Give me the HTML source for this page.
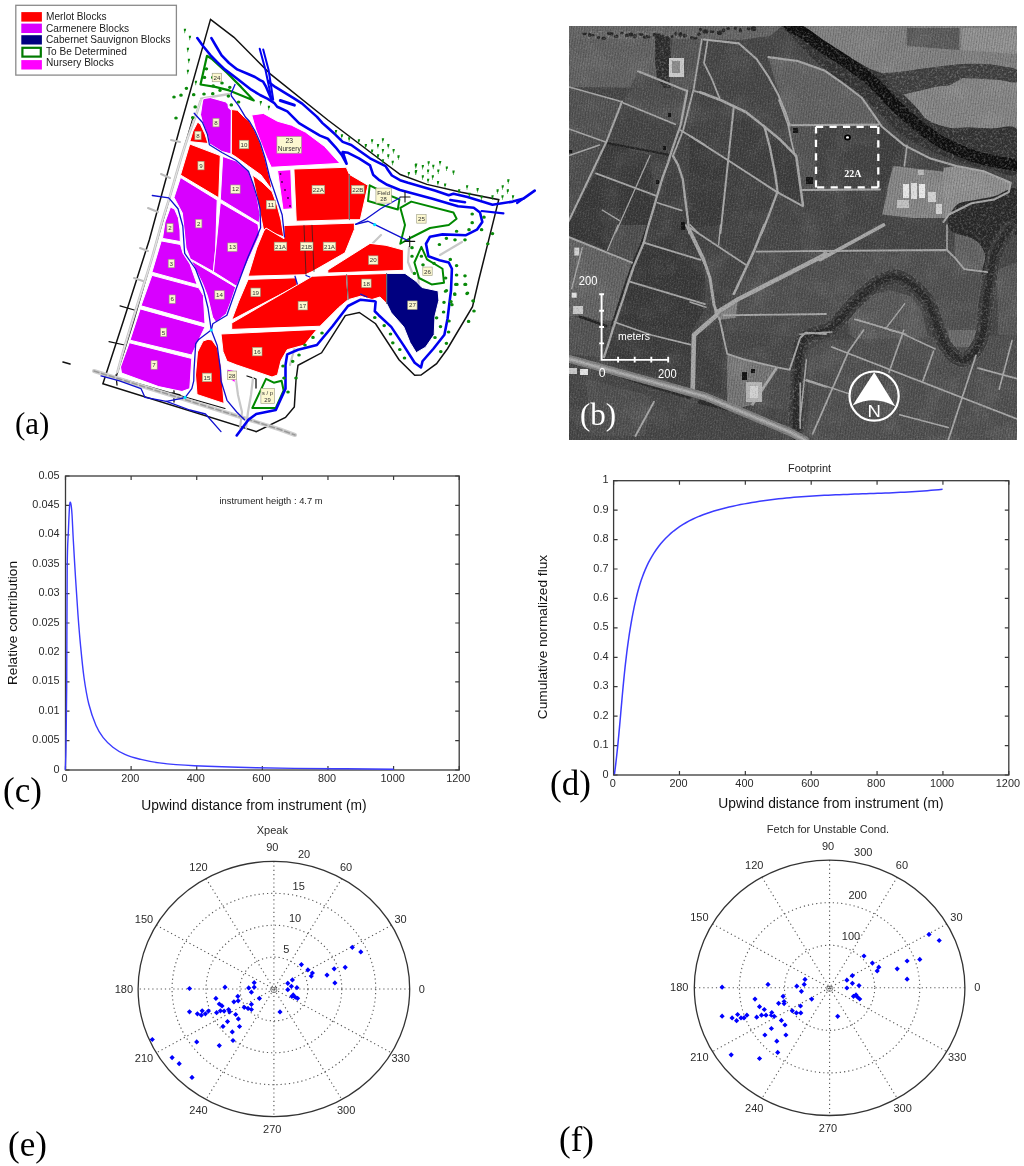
<!DOCTYPE html>
<html><head><meta charset="utf-8"><title>Figure</title>
<style>
html,body{margin:0;padding:0;background:#fff;}
body{width:1024px;height:1166px;overflow:hidden;position:relative;font-family:"Liberation Sans",sans-serif;}
svg{position:absolute;left:0;top:0;display:block;will-change:transform;}
</style></head><body>
<svg width="1024" height="1166" viewBox="0 0 1024 1166">
<defs><clipPath id="satclip"><rect x="569" y="26" width="448" height="414"/></clipPath><filter id="noise" x="0" y="0" width="100%" height="100%"><feTurbulence type="fractalNoise" baseFrequency="0.6" numOctaves="2" seed="3"/><feColorMatrix type="matrix" values="0 0 0 0 0  0 0 0 0 0  0 0 0 0 0  0 0 0 -1.2 0.62"/></filter><filter id="noiseW" x="0" y="0" width="100%" height="100%"><feTurbulence type="fractalNoise" baseFrequency="0.6" numOctaves="2" seed="5"/><feColorMatrix type="matrix" values="0 0 0 0 1  0 0 0 0 1  0 0 0 0 1  0 0 0 1.6 -0.72"/></filter><filter id="noise2" x="0" y="0" width="100%" height="100%"><feTurbulence type="fractalNoise" baseFrequency="0.04" numOctaves="3" seed="8"/><feColorMatrix type="matrix" values="0 0 0 0 1  0 0 0 0 1  0 0 0 0 1  0 0 0 1.2 -0.55"/></filter><filter id="trees" x="0" y="0" width="100%" height="100%"><feTurbulence type="fractalNoise" baseFrequency="0.42" numOctaves="2" seed="11"/><feColorMatrix type="matrix" values="0 0 0 0 0.62  0 0 0 0 0.62  0 0 0 0 0.62  0 0 0 2.6 -1.25"/></filter><pattern id="rows" width="2.6" height="6" patternUnits="userSpaceOnUse" patternTransform="rotate(8)"><rect width="1" height="6" fill="#000" fill-opacity="0.17"/></pattern><pattern id="rowsB" width="2.6" height="6" patternUnits="userSpaceOnUse" patternTransform="rotate(-62)"><rect width="1" height="6" fill="#000" fill-opacity="0.15"/></pattern><mask id="treemask" maskUnits="userSpaceOnUse" x="569" y="26" width="448" height="414"><polygon points="782,26 800,26 820,39.4 837.6,51.1 855.2,60.5 870,69 885.6,76 897,88 906,97 916.9,108 928.6,120.5 950,128 968.6,127.4 991.4,128.6 1017,129.7 1017,173.1 991.4,169.7 968.6,165.1 945.7,157.1 922.9,146.9 905,137 893.4,128 880,114 866.9,100.3 849.3,86.3 830,73 812,58 797,42" fill="#fff"/><polygon points="884,73 900,72 917,69.4 936,67 963,64 985,64 1000,66 1017,70 1017,82 1000,80 985,78 963,78 950,85 936.4,86.6 916.9,91.25 899.7,94.4 890,88" fill="#fff"/><polygon points="949,216 958,204 975,200 995,196 1017,190 1017,233 1011.8,233 1003,252 995,270 982,275 985,255 975,240 955,233 948,226" fill="#fff"/><polygon points="655,36 669,36 671,56 668,76 671,88 664,88 657,78 655,60" fill="#fff"/><polygon points="587,31 660,31 700,33 700,39 660,40 620,39 587,39" fill="#fff"/><path d="M797,440 C796.83,436.67 796,427.5 796,420 C796,412.5 796.67,403.33 797,395 C797.33,386.67 797.5,377.83 798,370 C798.5,362.17 798.67,353.5 800,348 C801.33,342.5 803,339.5 806,337 C809,334.5 814,334.33 818,333 C822,331.67 826.17,331.5 830,329 C833.83,326.5 837,322.33 841,318 C845,313.67 849.83,307.33 854,303 C858.17,298.67 861.58,295.67 866,292 C870.42,288.33 875.17,283.54 880.5,281 C885.83,278.46 892.17,275.63 898,276.75 C903.83,277.87 910.4,283.32 915.5,287.7 C920.6,292.07 924.95,296.45 928.6,303 C932.25,309.55 934.5,319.7 937.4,327 C940.3,334.3 941.98,341.3 946,346.8 C950.02,352.3 956.73,359.3 961.5,360 C966.27,360.7 970.97,355.77 974.6,351 C978.23,346.23 981.48,339.03 983.3,331.4 C985.12,323.77 984.38,314.31 985.5,305.2 C986.62,296.09 988.58,285.12 990,276.75 C991.42,268.38 991.83,261.56 994,255 C996.17,248.44 1000.33,241.9 1003,237.4 C1005.67,232.9 1008.83,229.57 1010,228" fill="none" stroke="#fff" stroke-width="16" stroke-linejoin="round" stroke-linecap="round" /></mask></defs>
<g clip-path="url(#satclip)">
<rect x="569" y="26" width="448" height="414" fill="#4a4a4a"/>
<polygon points="569,26 782,26 770,36 740,40 700,39 569,40" fill="#6a6a6a" />
<polygon points="569,39 655,39 657,78 661,88 569,87" fill="#666666" />
<polygon points="672,39 702,39 694,88 686,91 670,84" fill="#5a5a5a" />
<polygon points="569,87 622,101.7 606.2,142.3 569,129" fill="#565656" />
<polygon points="638,71.2 687.2,91 678,128 675.2,124.3 623.4,103" fill="#525252" />
<polygon points="623.4,103 675.2,124.3 668.6,154.2 606.2,142.3" fill="#484848" />
<polygon points="569,129 606.2,142.3 599.5,145 569,155.5" fill="#505050" />
<polygon points="569,155.5 599.5,145 595.6,172.8 580,200 569,220.6" fill="#525252" />
<polygon points="606.2,142.3 650,155.5 655.3,196.7 595.6,172.8" fill="#3e3e3e" />
<polygon points="650,155.5 668.6,154.2 655.3,200.7 655.3,196.7" fill="#454545" />
<polygon points="595.6,172.8 655.3,196.7 648.7,233 569,233 569,220.6" fill="#3c3c3c" />
<polygon points="670,158.2 683.2,184.8 688.5,226 688,233 648.7,233 655.3,200.7" fill="#444444" />
<polygon points="680.6,125 705,145 690,135.9 688,226 683.2,184.8 670,158.2" fill="#484848" />
<polygon points="703.9,39.5 739,43.4 756.6,59 768.4,76.6 778,94.2 786,113.75 789.8,125.5 779,135 758.6,121.6 735.2,104 700,92.3 707.8,75 704,63" fill="#4a4a4a" />
<polygon points="768.4,57.1 797.7,61 825,70.8 844.5,84.5 862,98 875.8,117.7 875.8,123.5 789.8,125.5 786,111.8 774.2,78.6" fill="#666666" />
<polygon points="690,92 720.5,100 745.8,112 764.4,126.6 727.2,159.8 690,135.9" fill="#484848" />
<polygon points="733.8,106.6 745.8,112 764.4,126.6 769.7,146.5 775,173 776.3,191.6 727.2,159.8" fill="#434343" />
<polygon points="764.4,126.6 780.3,139.8 796.2,155.8 802.9,204.9 776.3,191.6 775,173 769.7,146.5" fill="#404040" />
<polygon points="690,135.9 727.2,159.8 720.5,233 688,233" fill="#3e3e3e" />
<polygon points="727.2,159.8 776.3,191.6 761.7,233 720.5,233" fill="#454545" />
<polygon points="776.3,191.6 802.9,206.2 826,210 826,233 761.7,233" fill="#4a4a4a" />
<polygon points="788.3,125.2 816,126 816,190 802.9,191.6 796.2,155.8" fill="#585858" />
<polygon points="800,26 1017,26 1017,70 1000,66 985,64 963,64 936,67 917,69.4 900,72 885.6,74 870,69 855.2,60.5 837.6,51.1 820,39.4" fill="#858585" />
<polygon points="906.8,28 959.3,28 959.3,50 906.8,46" fill="#5e5e5e" />
<polygon points="961.5,28 1017,28 1017,54 961.5,50" fill="#969696" />
<polygon points="899.7,94.4 916.9,91.25 936.4,86.6 950,85 963,78 1000,80 1017,82 1017,129.7 991.4,128.6 968.6,127.4 950,128 928.6,122.5 916.9,110.8" fill="#8a8a8a" />
<polygon points="816,126.8 878.3,126.8 878.3,187.4 816,187.4" fill="#474747" />
<polygon points="878.3,124 882,125.5 904.4,145.4 907,145.4 904.4,166 893.2,166 882,190 878.3,190" fill="#424242" />
<polygon points="893.2,166 947.3,172 945.4,218.2 930.5,220 882,214.5 887,190" fill="#8c8c8c" />
<polygon points="943.5,167.8 956.6,166 984.6,171.6 1010.7,182.8 1008.8,192 993.9,199.6 971.5,203.3 949,214.5 943.5,222" fill="#959595" />
<polygon points="826,190 887.6,190 882,214.5 870,233 826,233" fill="#494949" />
<polygon points="882,218 947,218 947,233 870,233" fill="#4a4a4a" />
<polygon points="569,233 618,225 607.5,250.2 569,235.6" fill="#3a3a3a" />
<polygon points="607.5,250.2 618,225 648.7,225 631.4,262.2" fill="#525252" />
<polygon points="648.7,225 685.9,225 700.5,259.5 643.4,243.6" fill="#404040" />
<polygon points="569,237.2 632,262.6 628.9,280.9 622.7,300 616,320 600,321 585,316.6 569,316" fill="#686868" />
<polygon points="643.4,243.6 700.5,259.5 705,264.8 705,304.7 628.8,282.1" fill="#3c3c3c" />
<polygon points="628.8,282.1 705,304.7 706,307.3 692,330 614.2,322 619.5,299.4" fill="#3c3c3c" />
<polygon points="614.2,322 692,330 690,360 692.7,389.8 660,378 607.5,360 604,357.5" fill="#404040" />
<polygon points="569,316 600,321 604,357.5 569,354.6" fill="#585858" />
<polygon points="569,363.2 705,401.7 793,430 800,440 569,440" fill="#4a4a4a" />
<polygon points="586,379 651,396 645,436 590,436" fill="#545454" />
<polygon points="695.3,330 721.9,330 722,393.7 695.3,390" fill="#444444" />
<polygon points="727,330 800.2,330 800.2,338 789.6,369.8 776.3,367.2 743.1,359.2 727.2,353.9" fill="#4c4c4c" />
<polygon points="727.2,353.9 776.3,368.5 752.4,404.4 740,408 727,405" fill="#7a7a7a" />
<polygon points="776.3,368.5 796.2,369.8 793.6,403 785.6,410 752.4,404.4" fill="#535353" />
<polygon points="690,227.7 720.5,225 764.4,225 753.7,251.6 733.8,294 716.6,312.6 710,278 703.3,258.2" fill="#484848" />
<polygon points="764.4,225 826,225 826,250.9 756.4,251.6" fill="#4c4c4c" />
<polygon points="756.4,251.6 826,250.9 826,254.2 737.8,299.4 733.8,294" fill="#505050" />
<polygon points="737.8,299.4 826,254.2 826,314 723.2,315.3" fill="#545454" />
<polygon points="723.2,315.3 826,314 826,334 805.5,332.7 800.2,338 727,330" fill="#505050" />
<polygon points="716,310 738,298 736,318 718,320" fill="#888888" />
<polygon points="826,225 883.5,225 826,254.2" fill="#4a4a4a" />
<polygon points="883.5,225 947,225 947,250 826,251 826,254.2" fill="#484848" />
<polygon points="826,254.2 947,250 964.3,269.2 987.4,272.1 989.3,292.3 985.5,330 967,350 946,340 920,290 893.1,279 858.5,301 826,334" fill="#555555" />
<polygon points="954.7,225 1003,225 1002.8,244.2 993.1,273.1 987.4,272.1 964.3,269.2 954.7,257.7" fill="#666666" />
<polygon points="997,270 1017,262 1017,335 998,335" fill="#5c5c5c" />
<polygon points="846,312 866,296 890,290 910,296 922,311.6 927.7,335 950,350 958,360 940,380 900,372 850,335" fill="#5e5e5e" />
<polygon points="808.5,350 826,340 1017,335 1017,440 808,440" fill="#545454" />
<polygon points="948.3,330 976,330 975.9,347 948.3,347" fill="#707070" />
<rect x="569" y="26" width="448" height="414" filter="url(#noise2)" opacity="0.16"/>
<rect x="569" y="26" width="448" height="414" fill="url(#rows)"/>
<path d="M782,26 C785,26 793.67,23.77 800,26 C806.33,28.23 813.73,35.22 820,39.4 C826.27,43.58 831.73,47.58 837.6,51.1 C843.47,54.62 849.8,57.52 855.2,60.5 C860.6,63.48 864.93,66.42 870,69 C875.07,71.58 881.1,72.83 885.6,76 C890.1,79.17 893.6,84.5 897,88 C900.4,91.5 902.68,93.67 906,97 C909.32,100.33 913.13,104.08 916.9,108 C920.67,111.92 923.08,117.17 928.6,120.5 C934.12,123.83 943.33,126.85 950,128 C956.67,129.15 961.7,127.3 968.6,127.4 C975.5,127.5 983.33,128.22 991.4,128.6 C999.47,128.98 1012.73,122.28 1017,129.7 C1021.27,137.12 1021.27,166.43 1017,173.1 C1012.73,179.77 999.47,171.03 991.4,169.7 C983.33,168.37 976.22,167.2 968.6,165.1 C960.98,163 953.32,160.13 945.7,157.1 C938.08,154.07 929.68,150.25 922.9,146.9 C916.12,143.55 909.92,140.15 905,137 C900.08,133.85 897.57,131.83 893.4,128 C889.23,124.17 884.42,118.62 880,114 C875.58,109.38 872.02,104.92 866.9,100.3 C861.78,95.68 855.45,90.85 849.3,86.3 C843.15,81.75 836.22,77.72 830,73 C823.78,68.28 817.5,63.17 812,58 C806.5,52.83 802,47.33 797,42 C792,36.67 784.5,28.67 782,26Z" fill="#303030" />
<path d="M790,26 C792.5,27.33 800,30.83 805,34 C810,37.17 813.33,40.5 820,45 C826.67,49.5 836.67,55.25 845,61 C853.33,66.75 862,72.5 870,79.5 C878,86.5 886.5,96.58 893,103 C899.5,109.42 903.67,113.33 909,118 C914.33,122.67 918.67,126.5 925,131 C931.33,135.5 937.83,140.5 947,145 C956.17,149.5 968.33,154.58 980,158 C991.67,161.42 1010.83,164.25 1017,165.5" fill="none" stroke="#0c0c0c" stroke-width="12" stroke-linejoin="round" stroke-linecap="round" />
<path d="M884,73 C886.67,72.83 894.5,72.6 900,72 C905.5,71.4 911,70.23 917,69.4 C923,68.57 928.33,67.9 936,67 C943.67,66.1 954.83,64.5 963,64 C971.17,63.5 978.83,63.67 985,64 C991.17,64.33 994.67,65 1000,66 C1005.33,67 1014.17,67.33 1017,70 C1019.83,72.67 1019.83,80.33 1017,82 C1014.17,83.67 1005.33,80.67 1000,80 C994.67,79.33 991.17,78.33 985,78 C978.83,77.67 968.83,76.83 963,78 C957.17,79.17 954.43,83.57 950,85 C945.57,86.43 941.92,85.56 936.4,86.6 C930.88,87.64 923.02,89.95 916.9,91.25 C910.78,92.55 904.18,94.94 899.7,94.4 C895.22,93.86 892.62,91.57 890,88 C887.38,84.43 885,75.5 884,73Z" fill="#3c3c3c" />
<path d="M949,216 C950.5,214 953.67,206.67 958,204 C962.33,201.33 968.83,201.33 975,200 C981.17,198.67 988,197.67 995,196 C1002,194.33 1013.33,183.83 1017,190 C1020.67,196.17 1017.87,225.83 1017,233 C1016.13,240.17 1014.13,229.83 1011.8,233 C1009.47,236.17 1005.8,245.83 1003,252 C1000.2,258.17 998.5,266.17 995,270 C991.5,273.83 983.67,277.5 982,275 C980.33,272.5 986.17,260.83 985,255 C983.83,249.17 980,243.67 975,240 C970,236.33 959.5,235.33 955,233 C950.5,230.67 949,228.83 948,226 C947,223.17 948.83,217.67 949,216Z" fill="#262626" />
<polygon points="655,36 669,36 671,56 668,76 671,88 664,88 657,78 655,60" fill="#2a2a2a" />
<path d="M797,440 C796.83,436.67 796,427.5 796,420 C796,412.5 796.67,403.33 797,395 C797.33,386.67 797.5,377.83 798,370 C798.5,362.17 798.67,353.5 800,348 C801.33,342.5 803,339.5 806,337 C809,334.5 814,334.33 818,333 C822,331.67 826.17,331.5 830,329 C833.83,326.5 837,322.33 841,318 C845,313.67 849.83,307.33 854,303 C858.17,298.67 861.58,295.67 866,292 C870.42,288.33 875.17,283.54 880.5,281 C885.83,278.46 892.17,275.63 898,276.75 C903.83,277.87 910.4,283.32 915.5,287.7 C920.6,292.07 924.95,296.45 928.6,303 C932.25,309.55 934.5,319.7 937.4,327 C940.3,334.3 941.98,341.3 946,346.8 C950.02,352.3 956.73,359.3 961.5,360 C966.27,360.7 970.97,355.77 974.6,351 C978.23,346.23 981.48,339.03 983.3,331.4 C985.12,323.77 984.38,314.31 985.5,305.2 C986.62,296.09 988.58,285.12 990,276.75 C991.42,268.38 991.83,261.56 994,255 C996.17,248.44 1000.33,241.9 1003,237.4 C1005.67,232.9 1008.83,229.57 1010,228" fill="none" stroke="#383838" stroke-width="14" stroke-linejoin="round" stroke-linecap="round" />
<path d="M797,440 C796.83,436.67 796,427.5 796,420 C796,412.5 796.67,403.33 797,395 C797.33,386.67 797.5,377.83 798,370 C798.5,362.17 798.67,353.5 800,348 C801.33,342.5 803,339.5 806,337 C809,334.5 814,334.33 818,333 C822,331.67 826.17,331.5 830,329 C833.83,326.5 837,322.33 841,318 C845,313.67 849.83,307.33 854,303 C858.17,298.67 861.58,295.67 866,292 C870.42,288.33 875.17,283.54 880.5,281 C885.83,278.46 892.17,275.63 898,276.75 C903.83,277.87 910.4,283.32 915.5,287.7 C920.6,292.07 924.95,296.45 928.6,303 C932.25,309.55 934.5,319.7 937.4,327 C940.3,334.3 941.98,341.3 946,346.8 C950.02,352.3 956.73,359.3 961.5,360 C966.27,360.7 970.97,355.77 974.6,351 C978.23,346.23 981.48,339.03 983.3,331.4 C985.12,323.77 984.38,314.31 985.5,305.2 C986.62,296.09 988.58,285.12 990,276.75 C991.42,268.38 991.83,261.56 994,255 C996.17,248.44 1000.33,241.9 1003,237.4 C1005.67,232.9 1008.83,229.57 1010,228" fill="none" stroke="#262626" stroke-width="6.3" stroke-linejoin="round" stroke-linecap="round" />
<ellipse cx="584.5" cy="33.8" rx="2.3" ry="1.4" fill="#262626"/>
<ellipse cx="589.7" cy="35.0" rx="1.6" ry="1.9" fill="#262626"/>
<ellipse cx="592.8" cy="35.4" rx="1.6" ry="1.4" fill="#262626"/>
<ellipse cx="598.6" cy="37.5" rx="1.7" ry="1.5" fill="#262626"/>
<ellipse cx="603.8" cy="38.2" rx="2.3" ry="1.7" fill="#262626"/>
<ellipse cx="609.4" cy="33.3" rx="2.6" ry="1.6" fill="#262626"/>
<ellipse cx="611.5" cy="33.6" rx="1.9" ry="2.2" fill="#262626"/>
<ellipse cx="616.2" cy="36.2" rx="2.3" ry="1.7" fill="#262626"/>
<ellipse cx="621.9" cy="33.3" rx="1.6" ry="1.5" fill="#262626"/>
<ellipse cx="626.9" cy="35.4" rx="1.9" ry="1.9" fill="#262626"/>
<ellipse cx="630.9" cy="34.6" rx="2.5" ry="2.1" fill="#262626"/>
<ellipse cx="634.8" cy="36.2" rx="2.2" ry="2.3" fill="#262626"/>
<ellipse cx="640.9" cy="34.6" rx="2.8" ry="1.4" fill="#262626"/>
<ellipse cx="644.6" cy="37.2" rx="1.7" ry="1.8" fill="#262626"/>
<ellipse cx="648.0" cy="36.7" rx="2.5" ry="1.9" fill="#262626"/>
<ellipse cx="655.1" cy="34.7" rx="2.4" ry="2.0" fill="#262626"/>
<ellipse cx="658.8" cy="35.5" rx="2.6" ry="2.3" fill="#262626"/>
<ellipse cx="663.1" cy="36.7" rx="1.6" ry="2.1" fill="#262626"/>
<ellipse cx="668.2" cy="38.5" rx="2.6" ry="1.6" fill="#262626"/>
<ellipse cx="672.1" cy="36.7" rx="1.5" ry="1.8" fill="#262626"/>
<ellipse cx="676.0" cy="33.6" rx="1.6" ry="2.1" fill="#262626"/>
<ellipse cx="680.5" cy="34.4" rx="2.0" ry="2.3" fill="#262626"/>
<ellipse cx="684.9" cy="35.5" rx="2.2" ry="2.3" fill="#262626"/>
<ellipse cx="691.8" cy="37.8" rx="1.9" ry="1.8" fill="#262626"/>
<ellipse cx="695.0" cy="37.9" rx="2.7" ry="1.5" fill="#262626"/>
<ellipse cx="699.0" cy="34.3" rx="1.8" ry="1.8" fill="#262626"/>
<ellipse cx="700.4" cy="29.6" rx="1.5" ry="1.8" fill="#262626"/>
<ellipse cx="705.5" cy="31.4" rx="2.9" ry="2.1" fill="#262626"/>
<ellipse cx="712.1" cy="31.7" rx="2.5" ry="1.4" fill="#262626"/>
<ellipse cx="719.6" cy="32.7" rx="2.8" ry="2.3" fill="#262626"/>
<ellipse cx="723.6" cy="30.4" rx="1.7" ry="2.1" fill="#262626"/>
<ellipse cx="728.2" cy="28.4" rx="1.8" ry="1.5" fill="#262626"/>
<ellipse cx="735.4" cy="28.3" rx="1.5" ry="1.5" fill="#262626"/>
<ellipse cx="740.4" cy="30.2" rx="1.5" ry="2.3" fill="#262626"/>
<ellipse cx="748.5" cy="28.9" rx="1.9" ry="1.7" fill="#262626"/>
<ellipse cx="753.5" cy="28.7" rx="2.8" ry="2.5" fill="#262626"/>
<path d="M606.2,142.8 L668.6,154.7" fill="none" stroke="#222" stroke-width="2.2" stroke-linejoin="round" stroke-linecap="round" stroke-dasharray="3 2"/>
<path d="M648.5,222 L641,244 L631,268 L626,282 L620,300 L611.5,326" fill="none" stroke="#262626" stroke-width="1.8" stroke-linejoin="round" stroke-linecap="round" stroke-dasharray="3 1.5"/>
<path d="M579.6,316.6 L606.2,326" fill="none" stroke="#222" stroke-width="2.5" stroke-linejoin="round" stroke-linecap="round" />
<path d="M586,366 L620,376 L650,386 L690,398" fill="none" stroke="#2a2a2a" stroke-width="3" stroke-linejoin="round" stroke-linecap="round" stroke-dasharray="4 3"/>
<path d="M700,402 L740,412 L780,425" fill="none" stroke="#2a2a2a" stroke-width="4" stroke-linejoin="round" stroke-linecap="round" stroke-dasharray="5 3"/>
<g mask="url(#treemask)"><rect x="569" y="26" width="448" height="414" filter="url(#trees)" opacity="0.32"/></g>
<path d="M569,87 L622,101.7" fill="none" stroke="#a6a6a6" stroke-width="1.61" stroke-linejoin="round" stroke-linecap="round" />
<path d="M638,71.2 L687.2,91" fill="none" stroke="#a6a6a6" stroke-width="2.07" stroke-linejoin="round" stroke-linecap="round" />
<path d="M622,101.7 L606.2,142.3 L569,220.6" fill="none" stroke="#a6a6a6" stroke-width="2.07" stroke-linejoin="round" stroke-linecap="round" />
<path d="M623.4,103 L675.2,124.3" fill="none" stroke="#a6a6a6" stroke-width="1.72" stroke-linejoin="round" stroke-linecap="round" />
<path d="M569,129 L606.2,142.3" fill="none" stroke="#a6a6a6" stroke-width="1.49" stroke-linejoin="round" stroke-linecap="round" />
<path d="M569,155.5 L599.5,145" fill="none" stroke="#a6a6a6" stroke-width="1.38" stroke-linejoin="round" stroke-linecap="round" />
<path d="M595.9,173.4 L656.4,195.9" fill="none" stroke="#a6a6a6" stroke-width="1.72" stroke-linejoin="round" stroke-linecap="round" />
<path d="M657.4,202.7 L681.8,210.5" fill="none" stroke="#a6a6a6" stroke-width="1.61" stroke-linejoin="round" stroke-linecap="round" />
<path d="M650,155.5 L615.5,233" fill="none" stroke="#a6a6a6" stroke-width="1.26" stroke-linejoin="round" stroke-linecap="round" />
<path d="M602.2,210 L619.5,220.6" fill="none" stroke="#a6a6a6" stroke-width="1.38" stroke-linejoin="round" stroke-linecap="round" />
<path d="M687.2,91 L680.6,125 L672,150 L668.1,162.7 L662.3,178.3 L657.4,194.9 L653.5,208.6 L647.6,228.1 L643.75,242.7 L633.6,266.9 L628.9,280.9 L622.7,300 L614,325.6 L608,345 L604,357" fill="none" stroke="#a6a6a6" stroke-width="2.3" stroke-linejoin="round" stroke-linecap="round" />
<path d="M693.8,88.4 L683.2,130 L673,155.9" fill="none" stroke="#a6a6a6" stroke-width="1.84" stroke-linejoin="round" stroke-linecap="round" />
<path d="M673,155.9 L677.9,164.6 L682.8,179.3 L685.2,198.8 L687.7,218.4 L689.3,233" fill="none" stroke="#a6a6a6" stroke-width="2.3" stroke-linejoin="round" stroke-linecap="round" />
<path d="M680.6,130.3 L705,145" fill="none" stroke="#a6a6a6" stroke-width="1.84" stroke-linejoin="round" stroke-linecap="round" />
<path d="M701.8,39.3 L693.8,88.4" fill="none" stroke="#a6a6a6" stroke-width="1.72" stroke-linejoin="round" stroke-linecap="round" />
<path d="M693.8,91 L705,93.7" fill="none" stroke="#a6a6a6" stroke-width="1.72" stroke-linejoin="round" stroke-linecap="round" />
<path d="M703.9,39.5 L739,43.4 L756.6,59 L768.4,76.6 L778,94.2 L786,113.75 L789.8,125.5" fill="none" stroke="#a6a6a6" stroke-width="2.07" stroke-linejoin="round" stroke-linecap="round" />
<path d="M707.8,39.5 L704,63 L711.7,78.6 L719.5,98.1" fill="none" stroke="#a6a6a6" stroke-width="1.72" stroke-linejoin="round" stroke-linecap="round" />
<path d="M768.4,57.1 L797.7,61 L825,70.8 L844.5,84.5 L862,98 L875.8,117.7 L882,126.8 L904.4,145.4 L930.5,158.5 L956.6,166 L984.6,171.6 L1010.7,182.8 L1008.8,192 L993.9,199.6 L971.5,203.3 L949,214.5 L943.5,222" fill="none" stroke="#a6a6a6" stroke-width="2.07" stroke-linejoin="round" stroke-linecap="round" />
<path d="M700,92.3 L720.5,100 L745.8,112 L764.4,126.6 L780.3,139.8 L796.2,155.8 L802.9,204.9" fill="none" stroke="#a6a6a6" stroke-width="2.53" stroke-linejoin="round" stroke-linecap="round" />
<path d="M733.8,106.6 L720.5,233" fill="none" stroke="#a6a6a6" stroke-width="1.95" stroke-linejoin="round" stroke-linecap="round" />
<path d="M690,135.9 L727.2,159.8 L776.3,191.6 L802.9,206.2" fill="none" stroke="#a6a6a6" stroke-width="1.95" stroke-linejoin="round" stroke-linecap="round" />
<path d="M764.4,126.6 L769.7,146.5 L775,173 L777.6,191.6 L769.7,212.9 L761.7,233" fill="none" stroke="#a6a6a6" stroke-width="2.3" stroke-linejoin="round" stroke-linecap="round" />
<path d="M779,100 L788.3,125.2 L791,139.8 L795,155.8" fill="none" stroke="#a6a6a6" stroke-width="1.72" stroke-linejoin="round" stroke-linecap="round" />
<path d="M788.3,125.2 L878.3,124.6" fill="none" stroke="#a6a6a6" stroke-width="2.07" stroke-linejoin="round" stroke-linecap="round" />
<path d="M802.9,190 L880,189.5" fill="none" stroke="#a6a6a6" stroke-width="1.84" stroke-linejoin="round" stroke-linecap="round" />
<path d="M907,145.4 L904.4,166" fill="none" stroke="#a6a6a6" stroke-width="1.61" stroke-linejoin="round" stroke-linecap="round" />
<path d="M690,224.8 L698,233" fill="none" stroke="#a6a6a6" stroke-width="1.49" stroke-linejoin="round" stroke-linecap="round" />
<path d="M569,237.2 L632,262.6" fill="none" stroke="#a6a6a6" stroke-width="1.84" stroke-linejoin="round" stroke-linecap="round" />
<path d="M643.75,242.7 L700.5,259.9" fill="none" stroke="#a6a6a6" stroke-width="1.84" stroke-linejoin="round" stroke-linecap="round" />
<path d="M629.7,281.7 L705,304.1" fill="none" stroke="#a6a6a6" stroke-width="1.84" stroke-linejoin="round" stroke-linecap="round" />
<path d="M614.2,322 L651.3,335 L690.4,344.6" fill="none" stroke="#a6a6a6" stroke-width="1.72" stroke-linejoin="round" stroke-linecap="round" />
<path d="M618,225 L607.5,250.2" fill="none" stroke="#a6a6a6" stroke-width="1.26" stroke-linejoin="round" stroke-linecap="round" />
<path d="M582.3,247.6 L571.7,288.7" fill="none" stroke="#a6a6a6" stroke-width="1.38" stroke-linejoin="round" stroke-linecap="round" />
<path d="M685.9,225 L701.8,258.2 L705,264.8" fill="none" stroke="#a6a6a6" stroke-width="1.84" stroke-linejoin="round" stroke-linecap="round" />
<path d="M690,230.3 L703.3,258.2 L710,278 L714,304.7 L716.6,312.6" fill="none" stroke="#a6a6a6" stroke-width="2.99" stroke-linejoin="round" stroke-linecap="round" />
<path d="M690,227.7 L745.8,264.8" fill="none" stroke="#a6a6a6" stroke-width="1.72" stroke-linejoin="round" stroke-linecap="round" />
<path d="M720.5,225 L718.6,245" fill="none" stroke="#a6a6a6" stroke-width="1.49" stroke-linejoin="round" stroke-linecap="round" />
<path d="M716.6,312.6 L737.8,299.4 L826,254.2" fill="none" stroke="#a6a6a6" stroke-width="4.37" stroke-linejoin="round" stroke-linecap="round" />
<path d="M733.8,294 L753.7,251.6 L764.4,225" fill="none" stroke="#a6a6a6" stroke-width="2.53" stroke-linejoin="round" stroke-linecap="round" />
<path d="M723.2,315.3 L826,314" fill="none" stroke="#a6a6a6" stroke-width="1.84" stroke-linejoin="round" stroke-linecap="round" />
<path d="M756.4,251.6 L822.8,250.9 L826,254" fill="none" stroke="#a6a6a6" stroke-width="1.72" stroke-linejoin="round" stroke-linecap="round" />
<path d="M716.6,315.3 L694,335 L692.7,389.8" fill="none" stroke="#a6a6a6" stroke-width="4.6" stroke-linejoin="round" stroke-linecap="round" />
<path d="M719.2,318 L723.2,335" fill="none" stroke="#a6a6a6" stroke-width="1.84" stroke-linejoin="round" stroke-linecap="round" />
<path d="M690,302 L706,307.3" fill="none" stroke="#a6a6a6" stroke-width="1.49" stroke-linejoin="round" stroke-linecap="round" />
<path d="M721.9,330 L727.2,353.9 L743.1,359.2 L776.3,367.2 L789.6,369.8 L800.2,338 L805.5,332.7 L826,334" fill="none" stroke="#a6a6a6" stroke-width="1.84" stroke-linejoin="round" stroke-linecap="round" />
<path d="M776.3,368.5 L752.4,404.4" fill="none" stroke="#a6a6a6" stroke-width="2.76" stroke-linejoin="round" stroke-linecap="round" />
<path d="M805.5,380.5 L826,387" fill="none" stroke="#a6a6a6" stroke-width="1.61" stroke-linejoin="round" stroke-linecap="round" />
<path d="M800.2,383 L800.2,428.3" fill="none" stroke="#a6a6a6" stroke-width="1.49" stroke-linejoin="round" stroke-linecap="round" />
<path d="M654,401.7 L635.4,436" fill="none" stroke="#a6a6a6" stroke-width="1.84" stroke-linejoin="round" stroke-linecap="round" />
<path d="M820,259.6 L883.5,225" fill="none" stroke="#a6a6a6" stroke-width="3.68" stroke-linejoin="round" stroke-linecap="round" />
<path d="M820,251 L947,250 L954.7,257.7 L964.3,269.2 L987.4,272.1" fill="none" stroke="#a6a6a6" stroke-width="1.84" stroke-linejoin="round" stroke-linecap="round" />
<path d="M947,225 L947,250" fill="none" stroke="#a6a6a6" stroke-width="1.61" stroke-linejoin="round" stroke-linecap="round" />
<path d="M904.6,303.9 L885.4,328.9" fill="none" stroke="#a6a6a6" stroke-width="1.49" stroke-linejoin="round" stroke-linecap="round" />
<path d="M854.6,319.3 L900.8,332.7" fill="none" stroke="#a6a6a6" stroke-width="1.49" stroke-linejoin="round" stroke-linecap="round" />
<path d="M800,334.2 L831.8,332.1" fill="none" stroke="#a6a6a6" stroke-width="1.49" stroke-linejoin="round" stroke-linecap="round" />
<path d="M806.4,359.7 L800,421.1" fill="none" stroke="#a6a6a6" stroke-width="1.49" stroke-linejoin="round" stroke-linecap="round" />
<path d="M863.6,330 L848.7,351.2 L812.7,433.8" fill="none" stroke="#a6a6a6" stroke-width="1.72" stroke-linejoin="round" stroke-linecap="round" />
<path d="M831.8,347 L1017,419" fill="none" stroke="#a6a6a6" stroke-width="1.84" stroke-linejoin="round" stroke-linecap="round" />
<path d="M903.8,330 L889,372.4" fill="none" stroke="#a6a6a6" stroke-width="1.61" stroke-linejoin="round" stroke-linecap="round" />
<path d="M933.5,351.2 L922.9,380.9" fill="none" stroke="#a6a6a6" stroke-width="1.61" stroke-linejoin="round" stroke-linecap="round" />
<path d="M806.4,379.8 L848.7,393.6" fill="none" stroke="#a6a6a6" stroke-width="1.49" stroke-linejoin="round" stroke-linecap="round" />
<path d="M899.6,414.8 L948.3,427.5" fill="none" stroke="#a6a6a6" stroke-width="1.49" stroke-linejoin="round" stroke-linecap="round" />
<path d="M975.9,355.4 L948.3,440" fill="none" stroke="#a6a6a6" stroke-width="1.72" stroke-linejoin="round" stroke-linecap="round" />
<path d="M978,368.1 L1017,378.7" fill="none" stroke="#a6a6a6" stroke-width="1.61" stroke-linejoin="round" stroke-linecap="round" />
<path d="M1012,340.6 L999.2,389.3" fill="none" stroke="#a6a6a6" stroke-width="1.61" stroke-linejoin="round" stroke-linecap="round" />
<path d="M889,330 L906,334.2" fill="none" stroke="#a6a6a6" stroke-width="1.38" stroke-linejoin="round" stroke-linecap="round" />
<path d="M856.4,319.4 L902.4,333.6 L935.2,349" fill="none" stroke="#a6a6a6" stroke-width="1.49" stroke-linejoin="round" stroke-linecap="round" />
<path d="M569,358.9 L705,396.4 L790,432 L805,440" fill="none" stroke="#7d7d7d" stroke-width="8" stroke-linejoin="round" stroke-linecap="round" />
<path d="M569,358.9 L705,396.4 L790,432 L805,440" fill="none" stroke="#9a9a9a" stroke-width="4" stroke-linejoin="round" stroke-linecap="round" />
<path d="M569,358.9 L705,396.4 L790,432 L805,440" fill="none" stroke="#b0b0b0" stroke-width="1.2" stroke-linejoin="round" stroke-linecap="round" />
<rect x="669" y="58" width="15" height="19" fill="#c8c8c8"/>
<rect x="672" y="61" width="8" height="12" fill="#8a8a8a"/>
<rect x="903" y="184" width="6" height="14" fill="#e6e6e6"/>
<rect x="911" y="183" width="6" height="16" fill="#dcdcdc"/>
<rect x="919" y="184" width="6" height="14" fill="#e8e8e8"/>
<rect x="928" y="192" width="8" height="10" fill="#cfcfcf"/>
<rect x="897" y="200" width="12" height="8" fill="#c0c0c0"/>
<rect x="936" y="204" width="6" height="10" fill="#d0d0d0"/>
<rect x="574.3" y="247.6" width="5" height="8" fill="#d0d0d0"/>
<rect x="571.7" y="292.7" width="5" height="5" fill="#e0e0e0"/>
<rect x="573" y="306" width="10" height="8" fill="#c8c8c8"/>
<rect x="569" y="368" width="8" height="6" fill="#c8c8c8"/>
<rect x="580" y="369" width="8" height="6" fill="#e2e2e2"/>
<rect x="746" y="382" width="16" height="20" fill="#b4b4b4"/>
<rect x="750" y="386" width="8" height="12" fill="#d0d0d0"/>
<rect x="918" y="170" width="6" height="5" fill="#b8b8b8"/>
<rect x="793" y="128" width="5" height="5" fill="#141414"/>
<rect x="806" y="177" width="7" height="7" fill="#141414"/>
<rect x="668" y="113" width="3" height="4" fill="#141414"/>
<rect x="663" y="146" width="3" height="4" fill="#141414"/>
<rect x="656" y="180" width="3" height="4" fill="#141414"/>
<rect x="681" y="222" width="4" height="8" fill="#141414"/>
<rect x="742" y="372" width="5" height="8" fill="#141414"/>
<rect x="751" y="369" width="4" height="4" fill="#141414"/>
<rect x="569" y="150" width="3" height="3" fill="#141414"/>
<rect x="569" y="26" width="448" height="414" filter="url(#noise)" opacity="0.32"/>
<rect x="569" y="26" width="448" height="414" filter="url(#noiseW)" opacity="0.22"/>
</g>
<path d="M816,126.8 L878.3,126.8" stroke="#fff" stroke-width="2.3" stroke-dasharray="7.2 6.3" fill="none"/>
<path d="M878.3,126.8 L878.3,187.4" stroke="#fff" stroke-width="2.3" stroke-dasharray="7.2 6.3" fill="none"/>
<path d="M878.3,187.4 L816,187.4" stroke="#fff" stroke-width="2.3" stroke-dasharray="7.2 6.3" fill="none"/>
<path d="M816,187.4 L816,126.8" stroke="#fff" stroke-width="2.3" stroke-dasharray="7.2 6.3" fill="none"/>
<ellipse cx="847.5" cy="137.4" rx="3.4" ry="3" fill="#000"/><ellipse cx="847.5" cy="137.4" rx="1.5" ry="1.2" fill="#fff"/>
<text x="852.8" y="177.4" font-size="10" font-weight="bold" text-anchor="middle" fill="#fff" font-family='"Liberation Serif", serif'>22A</text>
<path d="M601.6,294.3 V359.9 H668.5 M599.2,294.3 H604 M599.2,310.7 H604 M599.2,327 H604 M599.2,343.4 H604 M618.1,356.8 V362.6 M634.7,356.8 V362.6 M651.3,356.8 V362.6 M668.2,356.8 V362.6" stroke="#fff" stroke-width="1.9" fill="none"/>
<text x="588.1" y="284.6" font-size="12.3" text-anchor="middle" fill="#fff" font-family='"Liberation Sans", sans-serif' textLength="18.6" lengthAdjust="spacingAndGlyphs">200</text>
<text x="634" y="340.2" font-size="11.6" text-anchor="middle" fill="#fff" font-family='"Liberation Sans", sans-serif' textLength="32" lengthAdjust="spacingAndGlyphs">meters</text>
<text x="602.2" y="377.3" font-size="12.3" text-anchor="middle" fill="#fff" font-family='"Liberation Sans", sans-serif'>0</text>
<text x="667.3" y="377.6" font-size="12.3" text-anchor="middle" fill="#fff" font-family='"Liberation Sans", sans-serif' textLength="18.6" lengthAdjust="spacingAndGlyphs">200</text>
<circle cx="874.1" cy="396.1" r="24.6" fill="none" stroke="#fff" stroke-width="2.2"/>
<path d="M874.2,372.3 L895.2,406.3 Q874,394.5 852.6,405.6 Z" fill="#fff"/>
<text x="874.2" y="417.2" font-size="17.4" text-anchor="middle" fill="#fff" font-family='"Liberation Sans", sans-serif' textLength="13.4" lengthAdjust="spacingAndGlyphs">N</text>
<text x="580" y="425" font-size="31" fill="#fff" font-family='"Liberation Serif", serif'>(b)</text>
<g id="map">
<rect x="15.8" y="5.3" width="160.6" height="69.8" fill="#fff" stroke="#8a8a8a" stroke-width="1.3"/>
<rect x="21.3" y="12.1" width="20.6" height="9.5" fill="#ff0000"/>
<rect x="21.3" y="23.6" width="20.6" height="9.4" fill="#d800ff"/>
<rect x="21.3" y="35.2" width="20.6" height="9.3" fill="#000080"/>
<rect x="22.4" y="47.8" width="18.4" height="8.8" fill="#fff" stroke="#007a00" stroke-width="2.2"/>
<rect x="21.3" y="60.1" width="20.6" height="9.4" fill="#ff00ff"/>
<text x="46" y="20.2" font-size="10.1" fill="#1a1a1a" font-family='"Liberation Sans", sans-serif'>Merlot Blocks</text>
<text x="46" y="31.5" font-size="10.1" fill="#1a1a1a" font-family='"Liberation Sans", sans-serif'>Carmenere Blocks</text>
<text x="46" y="42.9" font-size="10.1" fill="#1a1a1a" font-family='"Liberation Sans", sans-serif'>Cabernet Sauvignon Blocks</text>
<text x="46" y="54.6" font-size="10.1" fill="#1a1a1a" font-family='"Liberation Sans", sans-serif'>To Be Determined</text>
<text x="46" y="66.3" font-size="10.1" fill="#1a1a1a" font-family='"Liberation Sans", sans-serif'>Nursery Blocks</text>
<polygon points="210.5,19.4 234,37.3 270.2,73.9 327.8,120 380,159.5 400.3,174.5 426.9,184.4 461.25,192.2 498.75,199.7 478.75,280 472.5,306.6 447.5,348.75 436.6,363.6 421,375 414.7,375.3 399,359.7 375.6,323.75 359.3,312.5 345.3,315.6 321.6,352.8 298,365.3 296,380 294.3,407 285.5,417.5 256.25,431.6 102.9,383.7 123.7,320 149.3,240 179.3,130" fill="none" stroke="#111" stroke-width="1.5" stroke-linejoin="miter"/>
<path d="M192.7,118.6 L134,320 L116.7,375.3 L115.6,377 L225,408.5" fill="none" stroke="#111" stroke-width="1.2" stroke-linejoin="round" stroke-linecap="round" />
<path d="M120,305.8 L136,310.5" fill="none" stroke="#111" stroke-width="1.2" stroke-linejoin="round" stroke-linecap="round" />
<path d="M109,341.7 L124.5,345" fill="none" stroke="#111" stroke-width="1.2" stroke-linejoin="round" stroke-linecap="round" />
<path d="M63,362 L70,364" fill="none" stroke="#111" stroke-width="1.6" stroke-linejoin="round" stroke-linecap="round" />
<path d="M97,372.5 L120,379" fill="none" stroke="#111" stroke-width="1.5" stroke-linejoin="round" stroke-linecap="round" />
<path d="M116,375 L117,385" fill="none" stroke="#111" stroke-width="1.3" stroke-linejoin="round" stroke-linecap="round" />
<path d="M172,393 L180,395" fill="none" stroke="#111" stroke-width="1.3" stroke-linejoin="round" stroke-linecap="round" />
<path d="M174,390 L174,402" fill="none" stroke="#111" stroke-width="1.3" stroke-linejoin="round" stroke-linecap="round" />
<path d="M247,376 L256,379 L256,388" fill="none" stroke="#111" stroke-width="1.3" stroke-linejoin="round" stroke-linecap="round" />
<path d="M201,98.6 L229.2,94" fill="none" stroke="#c8c8c8" stroke-width="2.4" stroke-linejoin="round" stroke-linecap="round" />
<path d="M200.5,101 C199.75,103.33 198.27,108.5 196,115 C193.73,121.5 189.73,131.67 186.9,140 C184.07,148.33 181.82,155.67 179,165 C176.18,174.33 172.83,186.5 170,196 C167.17,205.5 165,211.67 162,222 C159,232.33 155.33,246.67 152,258 C148.67,269.33 145.33,279.33 142,290 C138.67,300.67 135.17,311.67 132,322 C128.83,332.33 125.42,343.67 123,352 C120.58,360.33 118.42,368.67 117.5,372" fill="none" stroke="#c4c4c4" stroke-width="2.6" stroke-linejoin="round" stroke-linecap="round" />
<path d="M200.5,101 C199.75,103.33 198.27,108.5 196,115 C193.73,121.5 189.73,131.67 186.9,140 C184.07,148.33 181.82,155.67 179,165 C176.18,174.33 172.83,186.5 170,196 C167.17,205.5 165,211.67 162,222 C159,232.33 155.33,246.67 152,258 C148.67,269.33 145.33,279.33 142,290 C138.67,300.67 135.17,311.67 132,322 C128.83,332.33 125.42,343.67 123,352 C120.58,360.33 118.42,368.67 117.5,372" fill="none" stroke="#e8e8e8" stroke-width="1.0" stroke-linejoin="round" stroke-linecap="round" />
<path d="M94,371 L140,385.5 L180,398 L215,409 L250,420 L280,429.5 L295,435" fill="none" stroke="#cfcfcf" stroke-width="4.0" stroke-linejoin="round" stroke-linecap="round" />
<path d="M94,371 L140,385.5 L180,398 L215,409 L250,420 L280,429.5 L295,435" fill="none" stroke="#9a9a9a" stroke-width="1.6" stroke-linejoin="round" stroke-linecap="round" stroke-dasharray="5 3"/>
<path d="M171,140 L180,142" fill="none" stroke="#bbb" stroke-width="2.0" stroke-linejoin="round" stroke-linecap="round" />
<path d="M161,174 L170,178" fill="none" stroke="#bbb" stroke-width="2.0" stroke-linejoin="round" stroke-linecap="round" />
<path d="M148,208 L158,212" fill="none" stroke="#bbb" stroke-width="2.0" stroke-linejoin="round" stroke-linecap="round" />
<path d="M140,248 L148,251" fill="none" stroke="#bbb" stroke-width="2.0" stroke-linejoin="round" stroke-linecap="round" />
<path d="M134,278 L143,281" fill="none" stroke="#bbb" stroke-width="2.0" stroke-linejoin="round" stroke-linecap="round" />
<path d="M297,331 L294,350 L290,365" fill="none" stroke="#c8c8c8" stroke-width="2.2" stroke-linejoin="round" stroke-linecap="round" />
<path d="M253,378 L251,395 L248,412 L246,428" fill="none" stroke="#c8c8c8" stroke-width="2.2" stroke-linejoin="round" stroke-linecap="round" />
<path d="M236,380 L238,395 L242,412 L240,428" fill="none" stroke="#c8c8c8" stroke-width="2.2" stroke-linejoin="round" stroke-linecap="round" />
<path d="M286,266 L300,262" fill="none" stroke="#c8c8c8" stroke-width="2.2" stroke-linejoin="round" stroke-linecap="round" />
<path d="M381,235 L374,242 L366,250 L360,262" fill="none" stroke="#c8c8c8" stroke-width="2.2" stroke-linejoin="round" stroke-linecap="round" />
<path d="M409,247 L408,262 L412,272" fill="none" stroke="#c8c8c8" stroke-width="2.2" stroke-linejoin="round" stroke-linecap="round" />
<path d="M440,255 L462,242" fill="none" stroke="#c8c8c8" stroke-width="2.2" stroke-linejoin="round" stroke-linecap="round" />
<path d="M418,275 L420,300" fill="none" stroke="#c8c8c8" stroke-width="2.2" stroke-linejoin="round" stroke-linecap="round" />
<polygon points="203.5,98.6 210.3,97.6 226,102 228,104.5 228.5,108 231.3,110 231,154 221.9,151.5 209.4,143.7 207.4,134.2 202.5,122.5 200.5,114.7 202.5,101" fill="#d800ff" stroke="#fff" stroke-width="1.0" stroke-linejoin="round" />
<polygon points="222.7,156.4 236,161 248.4,171.25 253,183.75 257.8,199.4 260,215 259,222.8 220.3,199.4" fill="#d800ff" stroke="#fff" stroke-width="1.0" stroke-linejoin="round" />
<polygon points="180.5,177.5 217.2,200 215.6,250 213.4,271.7 190.3,258.9 186,248 184.2,230 182.3,213 174,197.5" fill="#d800ff" stroke="#fff" stroke-width="1.0" stroke-linejoin="round" />
<polygon points="220.3,202.5 258,224.4 259.5,235 236.6,286.3 213.4,271.7 215.6,250" fill="#d800ff" stroke="#fff" stroke-width="1.0" stroke-linejoin="round" />
<polygon points="170.5,207.1 174.5,209.1 178.4,217.9 180,230 180.3,241.6 162.5,238.4 165,222" fill="#d800ff" stroke="#fff" stroke-width="1.0" stroke-linejoin="round" />
<polygon points="161.25,240.9 180.5,244.5 183.1,253.4 190,264 197.2,284.7 151.9,272.2" fill="#d800ff" stroke="#fff" stroke-width="1.0" stroke-linejoin="round" />
<polygon points="151.9,275.3 198.75,287.8 203.4,295.6 205,323.75 141,305.8" fill="#d800ff" stroke="#fff" stroke-width="1.0" stroke-linejoin="round" />
<polygon points="140.2,308.9 205,326.9 191.7,355 130,340.2" fill="#d800ff" stroke="#fff" stroke-width="1.0" stroke-linejoin="round" />
<polygon points="129.3,342.7 191.8,358.5 189.8,388.6 182,391.5 158.6,386.6 121.5,373 120.5,367" fill="#d800ff" stroke="#fff" stroke-width="1.0" stroke-linejoin="round" />
<polygon points="191.1,260.6 235.7,287.2 231.5,300 226.3,313.8 216,322.3 212.6,317.2 207.4,295.7 202.3,282.9" fill="#d800ff" stroke="#fff" stroke-width="1.0" stroke-linejoin="round" />
<polygon points="197.7,122 200.5,124.5 205,134 208,143.5 189.8,141.6 193,131" fill="#ff0000" stroke="#fff" stroke-width="1.0" stroke-linejoin="round" />
<polygon points="189.8,144 220.3,155.6 218.75,197.8 180.5,175" fill="#ff0000" stroke="#fff" stroke-width="1.0" stroke-linejoin="round" />
<polygon points="231.6,109.5 237.5,110.3 244,117 249.4,121.25 255,131 260.3,143 265,158 269.7,177.5 272,190 261,175 248.4,166 236,157 231.3,154" fill="#ff0000" stroke="#fff" stroke-width="1.0" stroke-linejoin="round" />
<polygon points="252.5,175 262,182 272,191.6 277,205 281,220 283.75,236.9 270,232 263.4,229 260.5,215 256.5,195" fill="#ff0000" stroke="#fff" stroke-width="1.0" stroke-linejoin="round" />
<polygon points="284,225.5 354.4,223.1 354.4,229.4 345,252.8 312.2,271.6 305.2,274.7 248.1,276.25 256.7,248 263.75,231 266,228 284,238.75" fill="#ff0000" stroke="#fff" stroke-width="1.0" stroke-linejoin="round" />
<polygon points="293.9,169 346.25,167.3 349.4,174.4 349.4,219.7 296.25,221.25" fill="#ff0000" stroke="#fff" stroke-width="1.0" stroke-linejoin="round" />
<polygon points="349.4,174.4 368,185.3 360.3,219.7 349.4,219.7" fill="#ff0000" stroke="#fff" stroke-width="1.0" stroke-linejoin="round" />
<polygon points="248.1,279.4 296.6,277.8 297.3,285.6 231.7,320 238.75,301.25" fill="#ff0000" stroke="#fff" stroke-width="1.0" stroke-linejoin="round" />
<polygon points="312.2,276.25 346.6,274.7 348.1,299.7 338.75,307.5 320,326.25 231.7,329.4 231.7,323.1" fill="#ff0000" stroke="#fff" stroke-width="1.0" stroke-linejoin="round" />
<polygon points="346.6,274.7 386.6,273.5 386.6,303.4 380,297 372,299.5 360.6,296.2 348.1,299.7" fill="#ff0000" stroke="#fff" stroke-width="1.0" stroke-linejoin="round" />
<polygon points="327.8,270 370,243.4 386,245.3 403.4,250 403.4,270.3 327.8,273.1" fill="#ff0000" stroke="#fff" stroke-width="1.0" stroke-linejoin="round" />
<polygon points="221,334 316.9,329.4 304.4,345 287.2,349.7 281,360.6 277.5,375 272,377 236.7,365 227,361.25 223,351.5" fill="#ff0000" stroke="#fff" stroke-width="1.0" stroke-linejoin="round" />
<polygon points="203,341 208,339.3 212,340 217.5,348 221,365 224,403.5 197,394.5 195.5,375 197.5,352" fill="#ff0000" stroke="#fff" stroke-width="1.0" stroke-linejoin="round" />
<polygon points="251.7,115 263.4,113.4 277.5,121.25 291.6,125.2 305.6,132.2 324.4,146.25 340,163.4 271.25,167.3 266.6,157.2 255.6,129" fill="#ff00ff" stroke="#fff" stroke-width="1.0" stroke-linejoin="round" />
<polygon points="277.5,170.5 290.8,169.7 292.3,208.75 283,209.5" fill="#ff00ff" stroke="#fff" stroke-width="1.0" stroke-linejoin="round" />
<polygon points="227,369 236.7,371 234.8,382.7 227,376.9" fill="#ff00ff" stroke="#fff" stroke-width="1.0" stroke-linejoin="round" />
<polygon points="386.6,273.4 405,273.4 416,281.25 422,287.5 438.1,290.9 438.9,300.3 435,316 434.2,334.7 425.6,347.2 416.25,352.7 410,342.5 403.75,326.9 391.25,312.8 386.6,303.4" fill="#000080" stroke="#fff" stroke-width="1.0" stroke-linejoin="round" />
<path d="M304,225.5 L306,274.5" fill="none" stroke="#222" stroke-width="0.7" stroke-linejoin="round" stroke-linecap="round" />
<path d="M312,225.3 L314,271.5" fill="none" stroke="#222" stroke-width="0.7" stroke-linejoin="round" stroke-linecap="round" />
<path d="M349.4,174.4 L349.4,219.7" fill="none" stroke="#222" stroke-width="0.7" stroke-linejoin="round" stroke-linecap="round" />
<path d="M346.6,274.7 L348.1,299.7" fill="none" stroke="#222" stroke-width="0.7" stroke-linejoin="round" stroke-linecap="round" />
<path d="M386.6,273.5 L386.6,303.4" fill="none" stroke="#222" stroke-width="0.7" stroke-linejoin="round" stroke-linecap="round" />
<circle cx="280.5" cy="174" r="0.9" fill="#400040"/>
<circle cx="282" cy="182" r="0.9" fill="#400040"/>
<circle cx="285" cy="190" r="0.9" fill="#400040"/>
<circle cx="288" cy="198" r="0.9" fill="#400040"/>
<circle cx="290" cy="206" r="0.9" fill="#400040"/>
<polygon points="207,55.8 211.6,58.75 226.9,72.8 241,86.9 253.8,100.4 229.2,90.4 215.2,86.9 200.5,84.5" fill="none" stroke="#008800" stroke-width="2.2" stroke-linejoin="round" />
<polygon points="369.7,185.3 391.6,196.25 399.4,199.4 397.8,209.5 368,201" fill="none" stroke="#008800" stroke-width="2.0" stroke-linejoin="round" />
<polygon points="400.3,207.8 411.25,201.6 453.4,212.5 456.6,218.75 448.75,225 430,228 411.25,237.5 400.3,243.75 405,225" fill="none" stroke="#008800" stroke-width="2.0" stroke-linejoin="round" />
<polygon points="421.4,246.9 427,259.4 442.5,268.75 444,282.8 431.6,284.4 419,278 414.4,262.5" fill="none" stroke="#008800" stroke-width="2.0" stroke-linejoin="round" />
<polygon points="252.3,408 266,378.8 273.8,382.7 281.6,380.8 283.6,390.5 275.8,408" fill="none" stroke="#008800" stroke-width="2.0" stroke-linejoin="round" />
<path d="M211.4,38.1 L216,46 L221.6,55.3 L229,63 L237.2,69.4 L248.1,74 L255,77 L260,80.2 L263.1,81.7 L266.25,87.2 L268.6,92.7 L271.7,99.7" fill="none" stroke="#0000f0" stroke-width="2.6" stroke-linejoin="round" stroke-linecap="round" />
<path d="M268.5,81 L270.2,83.3 L275.6,87.2 L285.8,93.4 L293.6,98.1 L302.2,103.6 L310,110.6 L317,116.9 L322.5,123.1 L327.8,127.8 L335.6,134.8 L342.7,141.9 L351.25,145 L359,150.5 L370,158.3 L385.6,166.1 L388,170 L391.9,175.5 L400,180.2 L408,182.8 L434.7,190.6 L448.75,195.3 L453.4,193.75 L467.5,196.9 L492.5,204.7 L512.8,201.6 L523.75,198.4 L534.7,190.6" fill="none" stroke="#0000f0" stroke-width="2.6" stroke-linejoin="round" stroke-linecap="round" />
<path d="M197.3,38.1 L203,46 L210.6,55.3 L217,62 L224.7,69.4 L237.2,78.75 L251.25,89.7 L260,95 L267.8,98.9 L274,102.8 L277.2,106.7 L287.3,111.4 L292.8,116.9 L299,123.1 L306.9,127.8 L320,135.6 L327.8,138.75 L335.6,147.3 L341.9,155.2 L346.6,163.75 L342.7,152 L348.1,152.8 L359,158.3 L370,165.3 L373.1,174.7 L379.4,180.2 L387.2,184.8 L400,190 L431.6,198.4 L458,206.25 L473.75,207.8 L480,212.5 L482.3,221.9 L476.9,229.7 L466,235.2 L442.5,234.4 L430,236.7 L426,243.75 L428.4,256.25 L439.4,260.2 L448.75,262.5 L451.9,268.75 L451,290.6 L449.8,300 L447.5,319 L444.4,334.7 L433.4,348.75 L422.5,361.25 L421,367.5 L414.7,362.8 L403.75,345.6 L391.25,326.9 L378.75,315.2 L374.8,311.25 L375.6,301.9 L374.7,301.25 L360.6,299.7 L348,306 L332.5,326.25 L316.9,345 L298,349.7 L287.2,354.4 L285.5,365 L285.5,388.6 L275.8,410 L256.25,414 L248.4,419.8 L236.7,435.5" fill="none" stroke="#0000f0" stroke-width="2.6" stroke-linejoin="round" stroke-linecap="round" />
<path d="M259.7,48.8 L265.5,70 L271.7,99.7" fill="none" stroke="#0000f0" stroke-width="2.0" stroke-linejoin="round" stroke-linecap="round" />
<path d="M263.2,49.4 L268.6,70 L273.2,99.7" fill="none" stroke="#0000f0" stroke-width="2.0" stroke-linejoin="round" stroke-linecap="round" />
<path d="M280.3,100.5 L294.4,105.2" fill="none" stroke="#0000f0" stroke-width="3.0" stroke-linejoin="round" stroke-linecap="round" />
<path d="M450.3,200 L465,202.3" fill="none" stroke="#0000f0" stroke-width="2.6" stroke-linejoin="round" stroke-linecap="round" />
<path d="M481.6,211 L503.4,213.3" fill="none" stroke="#0000f0" stroke-width="2.2" stroke-linejoin="round" stroke-linecap="round" />
<path d="M517,203 L523.75,198.4" fill="none" stroke="#0000f0" stroke-width="2.2" stroke-linejoin="round" stroke-linecap="round" />
<path d="M235,84.5 L231,94 L231.6,96.25 L238.6,105.6 L245.6,117.3 L249.4,121.25 L255,131 L260.3,143 L265,158 L269.7,177.5 L276,196.25 L282.2,215 L284.5,236.9" fill="none" stroke="#1010d0" stroke-width="1.3" stroke-linejoin="round" stroke-linecap="round" />
<path d="M194.2,113.2 L202.5,122.5 L207.4,134.2 L209.4,144.7 L221.9,152.5 L236,160.3 L248.4,171.25 L253,183.75 L257.8,199.4 L260,208.75 L260.6,227.8 L248,257 L236.25,288.6 L226.9,315.2 L212.8,323.75 L211.25,330" fill="none" stroke="#1010d0" stroke-width="1.3" stroke-linejoin="round" stroke-linecap="round" />
<path d="M152.3,195.5 L168.75,197.8 L178,208.75 L182.8,226 L184.4,250 L184.7,253.4 L195.6,269 L203.4,289.4 L208,308 L211.25,330" fill="none" stroke="#1010d0" stroke-width="1.3" stroke-linejoin="round" stroke-linecap="round" />
<path d="M211.25,330 L198.75,339.4 L195.7,343.7 L194,370.6 L193.75,380.8 L191.8,388.6 L186,396.4 L182,398.4" fill="none" stroke="#1010d0" stroke-width="1.3" stroke-linejoin="round" stroke-linecap="round" />
<path d="M211.25,330 L217.2,345.6 L220.6,370.6 L221,380.8 L227,400.3 L236.7,412 L244.5,419.8" fill="none" stroke="#1010d0" stroke-width="1.3" stroke-linejoin="round" stroke-linecap="round" />
<path d="M101,375.9 L119.5,380.8 L141,388.6 L145,397.4 L166.4,401.3 L182,398.4" fill="none" stroke="#1010d0" stroke-width="1.3" stroke-linejoin="round" stroke-linecap="round" />
<path d="M166.4,401.3 L189.8,410 L205.5,414 L221,431.6" fill="none" stroke="#1010d0" stroke-width="1.3" stroke-linejoin="round" stroke-linecap="round" />
<path d="M355.6,224.4 L365,219.7 L380.6,208.75 L400,197.8" fill="none" stroke="#1010d0" stroke-width="1.3" stroke-linejoin="round" stroke-linecap="round" />
<path d="M355.6,224.4 L368,221.25 L374.4,224.4 L400,236.9 L409.7,241.4" fill="none" stroke="#1010d0" stroke-width="1.3" stroke-linejoin="round" stroke-linecap="round" />
<path d="M295,276.25 L297.3,284" fill="none" stroke="#1010d0" stroke-width="1.3" stroke-linejoin="round" stroke-linecap="round" />
<path d="M306,275.5 L309.8,277" fill="none" stroke="#1010d0" stroke-width="1.3" stroke-linejoin="round" stroke-linecap="round" />
<path d="M360.6,294.2 L367,297" fill="none" stroke="#1010d0" stroke-width="1.3" stroke-linejoin="round" stroke-linecap="round" />
<circle cx="211.25" cy="330" r="1.6" fill="#00e0ff"/>
<circle cx="185" cy="397.4" r="1.6" fill="#00e0ff"/>
<circle cx="374.7" cy="224.7" r="1.6" fill="#00e0ff"/>
<path d="M400,197 L410,197" fill="none" stroke="#111" stroke-width="1.1" stroke-linejoin="round" stroke-linecap="round" />
<path d="M405,192 L405,202" fill="none" stroke="#111" stroke-width="1.1" stroke-linejoin="round" stroke-linecap="round" />
<path d="M404.7,241.4 L414.7,241.4" fill="none" stroke="#111" stroke-width="1.1" stroke-linejoin="round" stroke-linecap="round" />
<path d="M409.7,236.4 L409.7,246.4" fill="none" stroke="#111" stroke-width="1.1" stroke-linejoin="round" stroke-linecap="round" />
<path d="M186.4,88.3m-1.8,0a1.8,1.6 0 1,0 3.6,0a1.8,1.6 0 1,0 -3.6,0M181,95.2m-1.8,0a1.8,1.6 0 1,0 3.6,0a1.8,1.6 0 1,0 -3.6,0M193.7,94.7m-1.8,0a1.8,1.6 0 1,0 3.6,0a1.8,1.6 0 1,0 -3.6,0M204,94m-1.8,0a1.8,1.6 0 1,0 3.6,0a1.8,1.6 0 1,0 -3.6,0M212.75,93.7m-1.8,0a1.8,1.6 0 1,0 3.6,0a1.8,1.6 0 1,0 -3.6,0M195.2,106.9m-1.8,0a1.8,1.6 0 1,0 3.6,0a1.8,1.6 0 1,0 -3.6,0M192.7,117.6m-1.8,0a1.8,1.6 0 1,0 3.6,0a1.8,1.6 0 1,0 -3.6,0M206.4,68.8m-1.8,0a1.8,1.6 0 1,0 3.6,0a1.8,1.6 0 1,0 -3.6,0M204.5,77.4m-1.8,0a1.8,1.6 0 1,0 3.6,0a1.8,1.6 0 1,0 -3.6,0M212.75,77.4m-1.8,0a1.8,1.6 0 1,0 3.6,0a1.8,1.6 0 1,0 -3.6,0M213.2,85.9m-1.8,0a1.8,1.6 0 1,0 3.6,0a1.8,1.6 0 1,0 -3.6,0M222,83m-1.8,0a1.8,1.6 0 1,0 3.6,0a1.8,1.6 0 1,0 -3.6,0M220,90.3m-1.8,0a1.8,1.6 0 1,0 3.6,0a1.8,1.6 0 1,0 -3.6,0M229.8,87.3m-1.8,0a1.8,1.6 0 1,0 3.6,0a1.8,1.6 0 1,0 -3.6,0M228.4,96.1m-1.8,0a1.8,1.6 0 1,0 3.6,0a1.8,1.6 0 1,0 -3.6,0M231.3,104.9m-1.8,0a1.8,1.6 0 1,0 3.6,0a1.8,1.6 0 1,0 -3.6,0M238.6,102m-1.8,0a1.8,1.6 0 1,0 3.6,0a1.8,1.6 0 1,0 -3.6,0M174,97m-1.8,0a1.8,1.6 0 1,0 3.6,0a1.8,1.6 0 1,0 -3.6,0M176,118m-1.8,0a1.8,1.6 0 1,0 3.6,0a1.8,1.6 0 1,0 -3.6,0M412,247.7m-1.8,0a1.8,1.6 0 1,0 3.6,0a1.8,1.6 0 1,0 -3.6,0M412,256.25m-1.8,0a1.8,1.6 0 1,0 3.6,0a1.8,1.6 0 1,0 -3.6,0M421.4,256.25m-1.8,0a1.8,1.6 0 1,0 3.6,0a1.8,1.6 0 1,0 -3.6,0M414.4,273.4m-1.8,0a1.8,1.6 0 1,0 3.6,0a1.8,1.6 0 1,0 -3.6,0M423,264.8m-1.8,0a1.8,1.6 0 1,0 3.6,0a1.8,1.6 0 1,0 -3.6,0M434,263.3m-1.8,0a1.8,1.6 0 1,0 3.6,0a1.8,1.6 0 1,0 -3.6,0M445.6,278m-1.8,0a1.8,1.6 0 1,0 3.6,0a1.8,1.6 0 1,0 -3.6,0M446.4,290.6m-1.8,0a1.8,1.6 0 1,0 3.6,0a1.8,1.6 0 1,0 -3.6,0M444,302.3m-1.8,0a1.8,1.6 0 1,0 3.6,0a1.8,1.6 0 1,0 -3.6,0M451,301.6m-1.8,0a1.8,1.6 0 1,0 3.6,0a1.8,1.6 0 1,0 -3.6,0M455.8,284.4m-1.8,0a1.8,1.6 0 1,0 3.6,0a1.8,1.6 0 1,0 -3.6,0M456.6,275m-1.8,0a1.8,1.6 0 1,0 3.6,0a1.8,1.6 0 1,0 -3.6,0M456.6,265.6m-1.8,0a1.8,1.6 0 1,0 3.6,0a1.8,1.6 0 1,0 -3.6,0M450.3,259.4m-1.8,0a1.8,1.6 0 1,0 3.6,0a1.8,1.6 0 1,0 -3.6,0M465,275.8m-1.8,0a1.8,1.6 0 1,0 3.6,0a1.8,1.6 0 1,0 -3.6,0M465,284.4m-1.8,0a1.8,1.6 0 1,0 3.6,0a1.8,1.6 0 1,0 -3.6,0M467.5,293m-1.8,0a1.8,1.6 0 1,0 3.6,0a1.8,1.6 0 1,0 -3.6,0M454.7,293.75m-1.8,0a1.8,1.6 0 1,0 3.6,0a1.8,1.6 0 1,0 -3.6,0M473,300.8m-1.8,0a1.8,1.6 0 1,0 3.6,0a1.8,1.6 0 1,0 -3.6,0M487.8,243.75m-1.8,0a1.8,1.6 0 1,0 3.6,0a1.8,1.6 0 1,0 -3.6,0M492.5,233.6m-1.8,0a1.8,1.6 0 1,0 3.6,0a1.8,1.6 0 1,0 -3.6,0M481.6,229.7m-1.8,0a1.8,1.6 0 1,0 3.6,0a1.8,1.6 0 1,0 -3.6,0M469,229.7m-1.8,0a1.8,1.6 0 1,0 3.6,0a1.8,1.6 0 1,0 -3.6,0M456.6,231.25m-1.8,0a1.8,1.6 0 1,0 3.6,0a1.8,1.6 0 1,0 -3.6,0M446.4,238.3m-1.8,0a1.8,1.6 0 1,0 3.6,0a1.8,1.6 0 1,0 -3.6,0M439.4,244.5m-1.8,0a1.8,1.6 0 1,0 3.6,0a1.8,1.6 0 1,0 -3.6,0M465,239.8m-1.8,0a1.8,1.6 0 1,0 3.6,0a1.8,1.6 0 1,0 -3.6,0M455,239.8m-1.8,0a1.8,1.6 0 1,0 3.6,0a1.8,1.6 0 1,0 -3.6,0M472.2,214m-1.8,0a1.8,1.6 0 1,0 3.6,0a1.8,1.6 0 1,0 -3.6,0M472.2,222.7m-1.8,0a1.8,1.6 0 1,0 3.6,0a1.8,1.6 0 1,0 -3.6,0M484,217.2m-1.8,0a1.8,1.6 0 1,0 3.6,0a1.8,1.6 0 1,0 -3.6,0M374.8,317.5m-1.8,0a1.8,1.6 0 1,0 3.6,0a1.8,1.6 0 1,0 -3.6,0M384.2,325.6m-1.8,0a1.8,1.6 0 1,0 3.6,0a1.8,1.6 0 1,0 -3.6,0M390.5,334m-1.8,0a1.8,1.6 0 1,0 3.6,0a1.8,1.6 0 1,0 -3.6,0M392.8,342.8m-1.8,0a1.8,1.6 0 1,0 3.6,0a1.8,1.6 0 1,0 -3.6,0M399.8,349.5m-1.8,0a1.8,1.6 0 1,0 3.6,0a1.8,1.6 0 1,0 -3.6,0M404.5,358m-1.8,0a1.8,1.6 0 1,0 3.6,0a1.8,1.6 0 1,0 -3.6,0M436.6,317.8m-1.8,0a1.8,1.6 0 1,0 3.6,0a1.8,1.6 0 1,0 -3.6,0M440.5,326.6m-1.8,0a1.8,1.6 0 1,0 3.6,0a1.8,1.6 0 1,0 -3.6,0M435,337.5m-1.8,0a1.8,1.6 0 1,0 3.6,0a1.8,1.6 0 1,0 -3.6,0M443.6,312m-1.8,0a1.8,1.6 0 1,0 3.6,0a1.8,1.6 0 1,0 -3.6,0M445.5,291.25m-1.8,0a1.8,1.6 0 1,0 3.6,0a1.8,1.6 0 1,0 -3.6,0M454.8,294.5m-1.8,0a1.8,1.6 0 1,0 3.6,0a1.8,1.6 0 1,0 -3.6,0M451.9,304.7m-1.8,0a1.8,1.6 0 1,0 3.6,0a1.8,1.6 0 1,0 -3.6,0M449,321m-1.8,0a1.8,1.6 0 1,0 3.6,0a1.8,1.6 0 1,0 -3.6,0M448.6,332m-1.8,0a1.8,1.6 0 1,0 3.6,0a1.8,1.6 0 1,0 -3.6,0M446.4,343.3m-1.8,0a1.8,1.6 0 1,0 3.6,0a1.8,1.6 0 1,0 -3.6,0M440.8,351.6m-1.8,0a1.8,1.6 0 1,0 3.6,0a1.8,1.6 0 1,0 -3.6,0M456.9,284.4m-1.8,0a1.8,1.6 0 1,0 3.6,0a1.8,1.6 0 1,0 -3.6,0M465.6,284.4m-1.8,0a1.8,1.6 0 1,0 3.6,0a1.8,1.6 0 1,0 -3.6,0M467,293.6m-1.8,0a1.8,1.6 0 1,0 3.6,0a1.8,1.6 0 1,0 -3.6,0M473.3,301.1m-1.8,0a1.8,1.6 0 1,0 3.6,0a1.8,1.6 0 1,0 -3.6,0M474,311m-1.8,0a1.8,1.6 0 1,0 3.6,0a1.8,1.6 0 1,0 -3.6,0M468.6,321.4m-1.8,0a1.8,1.6 0 1,0 3.6,0a1.8,1.6 0 1,0 -3.6,0M283,366m-1.8,0a1.8,1.6 0 1,0 3.6,0a1.8,1.6 0 1,0 -3.6,0M284,378m-1.8,0a1.8,1.6 0 1,0 3.6,0a1.8,1.6 0 1,0 -3.6,0M288,392m-1.8,0a1.8,1.6 0 1,0 3.6,0a1.8,1.6 0 1,0 -3.6,0M313,337.4m-1.8,0a1.8,1.6 0 1,0 3.6,0a1.8,1.6 0 1,0 -3.6,0M305,345m-1.8,0a1.8,1.6 0 1,0 3.6,0a1.8,1.6 0 1,0 -3.6,0M299,355m-1.8,0a1.8,1.6 0 1,0 3.6,0a1.8,1.6 0 1,0 -3.6,0M292.7,361.3m-1.8,0a1.8,1.6 0 1,0 3.6,0a1.8,1.6 0 1,0 -3.6,0M322,333m-1.8,0a1.8,1.6 0 1,0 3.6,0a1.8,1.6 0 1,0 -3.6,0M296,378m-1.8,0a1.8,1.6 0 1,0 3.6,0a1.8,1.6 0 1,0 -3.6,0" fill="#0a8a0a"/>
<path d="M183.8,28.7h2.4l-0.6,2.6h-0.5v1.9h-0.6v-1.9h-0.5zM188.8,35.7h2.4l-0.6,2.6h-0.5v1.9h-0.6v-1.9h-0.5zM186.8,47.7h2.4l-0.6,2.6h-0.5v1.9h-0.6v-1.9h-0.5zM187.8,58.7h2.4l-0.6,2.6h-0.5v1.9h-0.6v-1.9h-0.5zM186.8,69.7h2.4l-0.6,2.6h-0.5v1.9h-0.6v-1.9h-0.5zM194.8,80.7h2.4l-0.6,2.6h-0.5v1.9h-0.6v-1.9h-0.5zM259.7,101h2.4l-0.6,2.6h-0.5v1.9h-0.6v-1.9h-0.5zM267.8,105.7h2.4l-0.6,2.6h-0.5v1.9h-0.6v-1.9h-0.5zM334.9,129.9h2.4l-0.6,2.6h-0.5v1.9h-0.6v-1.9h-0.5zM340.8,134.3h2.4l-0.6,2.6h-0.5v1.9h-0.6v-1.9h-0.5zM348.1,137.2h2.4l-0.6,2.6h-0.5v1.9h-0.6v-1.9h-0.5zM357.8,139.2h2.4l-0.6,2.6h-0.5v1.9h-0.6v-1.9h-0.5zM371,139.2h2.4l-0.6,2.6h-0.5v1.9h-0.6v-1.9h-0.5zM381.8,138.2h2.4l-0.6,2.6h-0.5v1.9h-0.6v-1.9h-0.5zM376.9,144.1h2.4l-0.6,2.6h-0.5v1.9h-0.6v-1.9h-0.5zM387.2,144.1h2.4l-0.6,2.6h-0.5v1.9h-0.6v-1.9h-0.5zM364.7,144.1h2.4l-0.6,2.6h-0.5v1.9h-0.6v-1.9h-0.5zM371,149.4h2.4l-0.6,2.6h-0.5v1.9h-0.6v-1.9h-0.5zM381.8,148.95h2.4l-0.6,2.6h-0.5v1.9h-0.6v-1.9h-0.5zM392.5,148.95h2.4l-0.6,2.6h-0.5v1.9h-0.6v-1.9h-0.5zM376.9,154.3h2.4l-0.6,2.6h-0.5v1.9h-0.6v-1.9h-0.5zM387.2,154.3h2.4l-0.6,2.6h-0.5v1.9h-0.6v-1.9h-0.5zM397.4,155.3h2.4l-0.6,2.6h-0.5v1.9h-0.6v-1.9h-0.5zM381.8,159.2h2.4l-0.6,2.6h-0.5v1.9h-0.6v-1.9h-0.5zM391.6,160.7h2.4l-0.6,2.6h-0.5v1.9h-0.6v-1.9h-0.5zM415,163.6h2.4l-0.6,2.6h-0.5v1.9h-0.6v-1.9h-0.5zM415,169.9h2.4l-0.6,2.6h-0.5v1.9h-0.6v-1.9h-0.5zM407.7,171.9h2.4l-0.6,2.6h-0.5v1.9h-0.6v-1.9h-0.5zM414.7,164.1h2.4l-0.6,2.6h-0.5v1.9h-0.6v-1.9h-0.5zM421.7,165h2.4l-0.6,2.6h-0.5v1.9h-0.6v-1.9h-0.5zM427.55,161.2h2.4l-0.6,2.6h-0.5v1.9h-0.6v-1.9h-0.5zM432.2,164.7h2.4l-0.6,2.6h-0.5v1.9h-0.6v-1.9h-0.5zM439,160.9h2.4l-0.6,2.6h-0.5v1.9h-0.6v-1.9h-0.5zM445.7,166.45h2.4l-0.6,2.6h-0.5v1.9h-0.6v-1.9h-0.5zM452.4,170.6h2.4l-0.6,2.6h-0.5v1.9h-0.6v-1.9h-0.5zM414.7,170.6h2.4l-0.6,2.6h-0.5v1.9h-0.6v-1.9h-0.5zM427,169.4h2.4l-0.6,2.6h-0.5v1.9h-0.6v-1.9h-0.5zM437.2,169.4h2.4l-0.6,2.6h-0.5v1.9h-0.6v-1.9h-0.5zM421.7,175.2h2.4l-0.6,2.6h-0.5v1.9h-0.6v-1.9h-0.5zM431.7,175.2h2.4l-0.6,2.6h-0.5v1.9h-0.6v-1.9h-0.5zM427,178.7h2.4l-0.6,2.6h-0.5v1.9h-0.6v-1.9h-0.5zM436.9,181.1h2.4l-0.6,2.6h-0.5v1.9h-0.6v-1.9h-0.5zM444,183.4h2.4l-0.6,2.6h-0.5v1.9h-0.6v-1.9h-0.5zM458,189.3h2.4l-0.6,2.6h-0.5v1.9h-0.6v-1.9h-0.5zM466,185.2h2.4l-0.6,2.6h-0.5v1.9h-0.6v-1.9h-0.5zM476.5,188.1h2.4l-0.6,2.6h-0.5v1.9h-0.6v-1.9h-0.5zM468.3,192.8h2.4l-0.6,2.6h-0.5v1.9h-0.6v-1.9h-0.5zM480.5,195.7h2.4l-0.6,2.6h-0.5v1.9h-0.6v-1.9h-0.5zM491.4,195.2h2.4l-0.6,2.6h-0.5v1.9h-0.6v-1.9h-0.5zM496.5,189.3h2.4l-0.6,2.6h-0.5v1.9h-0.6v-1.9h-0.5zM501.6,185.2h2.4l-0.6,2.6h-0.5v1.9h-0.6v-1.9h-0.5zM507.2,179.3h2.4l-0.6,2.6h-0.5v1.9h-0.6v-1.9h-0.5zM506.7,189.3h2.4l-0.6,2.6h-0.5v1.9h-0.6v-1.9h-0.5zM501.4,195.2h2.4l-0.6,2.6h-0.5v1.9h-0.6v-1.9h-0.5zM511.9,195.2h2.4l-0.6,2.6h-0.5v1.9h-0.6v-1.9h-0.5z" fill="#0a8a0a"/>
<rect x="212.9" y="118.35" width="6.2" height="8.5" fill="#fcf8d0" stroke="#9a9a80" stroke-width="0.6"/><text x="216" y="124.83" font-size="6.2" text-anchor="middle" fill="#333" font-family='"Liberation Sans", sans-serif'>8</text>
<rect x="194.9" y="131.25" width="6.2" height="8.5" fill="#fcf8d0" stroke="#9a9a80" stroke-width="0.6"/><text x="198" y="137.73" font-size="6.2" text-anchor="middle" fill="#333" font-family='"Liberation Sans", sans-serif'>8</text>
<rect x="239.3" y="140.25" width="9.4" height="8.5" fill="#fcf8d0" stroke="#9a9a80" stroke-width="0.6"/><text x="244" y="146.73" font-size="6.2" text-anchor="middle" fill="#333" font-family='"Liberation Sans", sans-serif'>10</text>
<rect x="197.9" y="161.35" width="6.2" height="8.5" fill="#fcf8d0" stroke="#9a9a80" stroke-width="0.6"/><text x="201" y="167.83" font-size="6.2" text-anchor="middle" fill="#333" font-family='"Liberation Sans", sans-serif'>9</text>
<rect x="230.7" y="184.95" width="9.4" height="8.5" fill="#fcf8d0" stroke="#9a9a80" stroke-width="0.6"/><text x="235.4" y="191.43" font-size="6.2" text-anchor="middle" fill="#333" font-family='"Liberation Sans", sans-serif'>12</text>
<rect x="266.3" y="200.45" width="9.4" height="8.5" fill="#fcf8d0" stroke="#9a9a80" stroke-width="0.6"/><text x="271" y="206.93" font-size="6.2" text-anchor="middle" fill="#333" font-family='"Liberation Sans", sans-serif'>11</text>
<rect x="276.9" y="136.5" width="24.6" height="16.7" fill="#fcf8d0" stroke="#9a9a80" stroke-width="0.6"/>
<text x="289.2" y="143.3" font-size="6.8" text-anchor="middle" fill="#333" font-family='"Liberation Sans", sans-serif'>23</text>
<text x="289.2" y="150.8" font-size="6.6" text-anchor="middle" fill="#333" font-family='"Liberation Sans", sans-serif'>Nursery</text>
<rect x="312" y="185.35" width="12.6" height="8.5" fill="#fcf8d0" stroke="#9a9a80" stroke-width="0.6"/><text x="318.3" y="191.83" font-size="6.2" text-anchor="middle" fill="#333" font-family='"Liberation Sans", sans-serif'>22A</text>
<rect x="351.5" y="185.35" width="12.6" height="8.5" fill="#fcf8d0" stroke="#9a9a80" stroke-width="0.6"/><text x="357.8" y="191.83" font-size="6.2" text-anchor="middle" fill="#333" font-family='"Liberation Sans", sans-serif'>22B</text>
<rect x="195.7" y="219.35" width="6.2" height="8.5" fill="#fcf8d0" stroke="#9a9a80" stroke-width="0.6"/><text x="198.8" y="225.83" font-size="6.2" text-anchor="middle" fill="#333" font-family='"Liberation Sans", sans-serif'>2</text>
<rect x="166.9" y="223.65" width="6.2" height="8.5" fill="#fcf8d0" stroke="#9a9a80" stroke-width="0.6"/><text x="170" y="230.13" font-size="6.2" text-anchor="middle" fill="#333" font-family='"Liberation Sans", sans-serif'>2</text>
<rect x="227.7" y="242.95" width="9.4" height="8.5" fill="#fcf8d0" stroke="#9a9a80" stroke-width="0.6"/><text x="232.4" y="249.43" font-size="6.2" text-anchor="middle" fill="#333" font-family='"Liberation Sans", sans-serif'>13</text>
<rect x="274.2" y="242.15" width="12.6" height="8.5" fill="#fcf8d0" stroke="#9a9a80" stroke-width="0.6"/><text x="280.5" y="248.63" font-size="6.2" text-anchor="middle" fill="#333" font-family='"Liberation Sans", sans-serif'>21A</text>
<rect x="300.4" y="242.15" width="12.6" height="8.5" fill="#fcf8d0" stroke="#9a9a80" stroke-width="0.6"/><text x="306.7" y="248.63" font-size="6.2" text-anchor="middle" fill="#333" font-family='"Liberation Sans", sans-serif'>21B</text>
<rect x="323.2" y="242.15" width="12.6" height="8.5" fill="#fcf8d0" stroke="#9a9a80" stroke-width="0.6"/><text x="329.5" y="248.63" font-size="6.2" text-anchor="middle" fill="#333" font-family='"Liberation Sans", sans-serif'>21A</text>
<rect x="416.7" y="214.65" width="9.4" height="8.5" fill="#fcf8d0" stroke="#9a9a80" stroke-width="0.6"/><text x="421.4" y="221.13" font-size="6.2" text-anchor="middle" fill="#333" font-family='"Liberation Sans", sans-serif'>25</text>
<rect x="368.6" y="255.85" width="9.4" height="8.5" fill="#fcf8d0" stroke="#9a9a80" stroke-width="0.6"/><text x="373.3" y="262.33" font-size="6.2" text-anchor="middle" fill="#333" font-family='"Liberation Sans", sans-serif'>20</text>
<rect x="422.8" y="267.05" width="9.4" height="8.5" fill="#fcf8d0" stroke="#9a9a80" stroke-width="0.6"/><text x="427.5" y="273.53" font-size="6.2" text-anchor="middle" fill="#333" font-family='"Liberation Sans", sans-serif'>26</text>
<rect x="168.2" y="259.25" width="6.2" height="8.5" fill="#fcf8d0" stroke="#9a9a80" stroke-width="0.6"/><text x="171.3" y="265.73" font-size="6.2" text-anchor="middle" fill="#333" font-family='"Liberation Sans", sans-serif'>3</text>
<rect x="250.9" y="288.05" width="9.4" height="8.5" fill="#fcf8d0" stroke="#9a9a80" stroke-width="0.6"/><text x="255.6" y="294.53" font-size="6.2" text-anchor="middle" fill="#333" font-family='"Liberation Sans", sans-serif'>19</text>
<rect x="214.8" y="290.65" width="9.4" height="8.5" fill="#fcf8d0" stroke="#9a9a80" stroke-width="0.6"/><text x="219.5" y="297.13" font-size="6.2" text-anchor="middle" fill="#333" font-family='"Liberation Sans", sans-serif'>14</text>
<rect x="361.7" y="279.05" width="9.4" height="8.5" fill="#fcf8d0" stroke="#9a9a80" stroke-width="0.6"/><text x="366.4" y="285.53" font-size="6.2" text-anchor="middle" fill="#333" font-family='"Liberation Sans", sans-serif'>18</text>
<rect x="298.1" y="301.45" width="9.4" height="8.5" fill="#fcf8d0" stroke="#9a9a80" stroke-width="0.6"/><text x="302.8" y="307.93" font-size="6.2" text-anchor="middle" fill="#333" font-family='"Liberation Sans", sans-serif'>17</text>
<rect x="407.7" y="300.95" width="9.4" height="8.5" fill="#fcf8d0" stroke="#9a9a80" stroke-width="0.6"/><text x="412.4" y="307.43" font-size="6.2" text-anchor="middle" fill="#333" font-family='"Liberation Sans", sans-serif'>27</text>
<rect x="169.1" y="294.95" width="6.2" height="8.5" fill="#fcf8d0" stroke="#9a9a80" stroke-width="0.6"/><text x="172.2" y="301.43" font-size="6.2" text-anchor="middle" fill="#333" font-family='"Liberation Sans", sans-serif'>6</text>
<rect x="160.5" y="328.05" width="6.2" height="8.5" fill="#fcf8d0" stroke="#9a9a80" stroke-width="0.6"/><text x="163.6" y="334.53" font-size="6.2" text-anchor="middle" fill="#333" font-family='"Liberation Sans", sans-serif'>5</text>
<rect x="252.6" y="347.35" width="9.4" height="8.5" fill="#fcf8d0" stroke="#9a9a80" stroke-width="0.6"/><text x="257.3" y="353.83" font-size="6.2" text-anchor="middle" fill="#333" font-family='"Liberation Sans", sans-serif'>16</text>
<rect x="151" y="360.75" width="6.2" height="8.5" fill="#fcf8d0" stroke="#9a9a80" stroke-width="0.6"/><text x="154.1" y="367.23" font-size="6.2" text-anchor="middle" fill="#333" font-family='"Liberation Sans", sans-serif'>7</text>
<rect x="202.3" y="373.15" width="9.4" height="8.5" fill="#fcf8d0" stroke="#9a9a80" stroke-width="0.6"/><text x="207" y="379.63" font-size="6.2" text-anchor="middle" fill="#333" font-family='"Liberation Sans", sans-serif'>15</text>
<rect x="227.3" y="371.05" width="9.4" height="8.5" fill="#fcf8d0" stroke="#9a9a80" stroke-width="0.6"/><text x="232" y="377.53" font-size="6.2" text-anchor="middle" fill="#333" font-family='"Liberation Sans", sans-serif'>28</text>
<rect x="212.2" y="73.25" width="9.4" height="8.5" fill="#fcf8d0" stroke="#9a9a80" stroke-width="0.6"/><text x="216.9" y="79.73" font-size="6.2" text-anchor="middle" fill="#333" font-family='"Liberation Sans", sans-serif'>24</text>
<rect x="375.9" y="188.1" width="15.5" height="15" fill="#fcf8d0" stroke="#9a9a80" stroke-width="0.6"/>
<text x="383.6" y="194.7" font-size="5.8" text-anchor="middle" fill="#333" font-family='"Liberation Sans", sans-serif'>Field</text>
<text x="383.6" y="201.4" font-size="5.8" text-anchor="middle" fill="#333" font-family='"Liberation Sans", sans-serif'>28</text>
<rect x="260.9" y="388.4" width="13.5" height="15" fill="#fcf8d0" stroke="#9a9a80" stroke-width="0.6"/>
<text x="267.6" y="395" font-size="5.8" text-anchor="middle" fill="#333" font-family='"Liberation Sans", sans-serif'>s / p</text>
<text x="267.6" y="401.7" font-size="5.8" text-anchor="middle" fill="#333" font-family='"Liberation Sans", sans-serif'>29</text>
</g>
<rect x="65.5" y="476" width="393.7" height="294" fill="none" stroke="#3a3a3a" stroke-width="1.3"/>
<path d="M65.5,770v-4 M65.5,476v4 M131.12,770v-4 M131.12,476v4 M196.73,770v-4 M196.73,476v4 M262.35,770v-4 M262.35,476v4 M327.97,770v-4 M327.97,476v4 M393.58,770v-4 M393.58,476v4 M459.2,770v-4 M459.2,476v4 M65.5,770h4 M459.2,770h-4 M65.5,740.6h4 M459.2,740.6h-4 M65.5,711.2h4 M459.2,711.2h-4 M65.5,681.8h4 M459.2,681.8h-4 M65.5,652.4h4 M459.2,652.4h-4 M65.5,623h4 M459.2,623h-4 M65.5,593.6h4 M459.2,593.6h-4 M65.5,564.2h4 M459.2,564.2h-4 M65.5,534.8h4 M459.2,534.8h-4 M65.5,505.4h4 M459.2,505.4h-4 M65.5,476h4 M459.2,476h-4 " stroke="#3a3a3a" stroke-width="1.2" fill="none"/>
<text x="64.6" y="782" font-size="10.9" text-anchor="middle" fill="#2b2b2b" font-family='"Liberation Sans", sans-serif' >0</text>
<text x="130.22" y="782" font-size="10.9" text-anchor="middle" fill="#2b2b2b" font-family='"Liberation Sans", sans-serif' >200</text>
<text x="195.83" y="782" font-size="10.9" text-anchor="middle" fill="#2b2b2b" font-family='"Liberation Sans", sans-serif' >400</text>
<text x="261.45" y="782" font-size="10.9" text-anchor="middle" fill="#2b2b2b" font-family='"Liberation Sans", sans-serif' >600</text>
<text x="327.07" y="782" font-size="10.9" text-anchor="middle" fill="#2b2b2b" font-family='"Liberation Sans", sans-serif' >800</text>
<text x="392.68" y="782" font-size="10.9" text-anchor="middle" fill="#2b2b2b" font-family='"Liberation Sans", sans-serif' >1000</text>
<text x="458.3" y="782" font-size="10.9" text-anchor="middle" fill="#2b2b2b" font-family='"Liberation Sans", sans-serif' >1200</text>
<text x="59.6" y="772.62" font-size="10.9" text-anchor="end" fill="#2b2b2b" font-family='"Liberation Sans", sans-serif' >0</text>
<text x="59.6" y="743.22" font-size="10.9" text-anchor="end" fill="#2b2b2b" font-family='"Liberation Sans", sans-serif' >0.005</text>
<text x="59.6" y="713.82" font-size="10.9" text-anchor="end" fill="#2b2b2b" font-family='"Liberation Sans", sans-serif' >0.01</text>
<text x="59.6" y="684.42" font-size="10.9" text-anchor="end" fill="#2b2b2b" font-family='"Liberation Sans", sans-serif' >0.015</text>
<text x="59.6" y="655.02" font-size="10.9" text-anchor="end" fill="#2b2b2b" font-family='"Liberation Sans", sans-serif' >0.02</text>
<text x="59.6" y="625.62" font-size="10.9" text-anchor="end" fill="#2b2b2b" font-family='"Liberation Sans", sans-serif' >0.025</text>
<text x="59.6" y="596.22" font-size="10.9" text-anchor="end" fill="#2b2b2b" font-family='"Liberation Sans", sans-serif' >0.03</text>
<text x="59.6" y="566.82" font-size="10.9" text-anchor="end" fill="#2b2b2b" font-family='"Liberation Sans", sans-serif' >0.035</text>
<text x="59.6" y="537.42" font-size="10.9" text-anchor="end" fill="#2b2b2b" font-family='"Liberation Sans", sans-serif' >0.04</text>
<text x="59.6" y="508.02" font-size="10.9" text-anchor="end" fill="#2b2b2b" font-family='"Liberation Sans", sans-serif' >0.045</text>
<text x="59.6" y="478.62" font-size="10.9" text-anchor="end" fill="#2b2b2b" font-family='"Liberation Sans", sans-serif' >0.05</text>
<path d="M65.3,769.8 C65.42,766 65.77,760.8 66,747 C66.23,733.2 66.5,717 66.7,687 C66.9,657 66.92,593 67.2,567 C67.48,541 68,541.25 68.4,531 C68.8,520.75 69.2,510.1 69.6,505.5 C70,500.9 70.4,501.95 70.8,503.4 C71.2,504.85 71.6,508.4 72,514.2 C72.4,520 72.6,527.4 73.2,538.2 C73.8,549 74.8,566.2 75.6,579 C76.4,591.8 77.2,604.18 78,615 C78.8,625.82 79.4,633.48 80.4,643.9 C81.4,654.32 82.6,667.48 84,677.5 C85.4,687.52 86.8,696 88.8,704 C90.8,712 93.6,719.9 96,725.5 C98.4,731.1 100.38,733.98 103.2,737.6 C106.02,741.22 109.28,744.4 112.9,747.2 C116.52,750 120.38,752.4 124.9,754.4 C129.42,756.4 134.27,757.78 140,759.2 C145.73,760.62 150.22,761.8 159.3,762.9 C168.38,764 178.38,764.98 194.5,765.8 C210.62,766.62 232.58,767.32 256,767.8 C279.42,768.28 312.05,768.45 335,768.7 C357.95,768.95 383.92,769.2 393.7,769.3" fill="none" stroke="#3b3bff" stroke-width="1.4"/>
<text x="271" y="504" font-size="9.4" text-anchor="middle" fill="#222" font-family='"Liberation Sans", sans-serif' >instrument heigth : 4.7 m</text>
<text x="254" y="809.5" font-size="13.8" text-anchor="middle" fill="#111" font-family='"Liberation Sans", sans-serif' >Upwind distance from instrument (m)</text>
<text x="0" y="0" font-size="13.7" text-anchor="middle" fill="#111" font-family='"Liberation Sans", sans-serif' transform="translate(16.5,623) rotate(-90)">Relative contribution</text>
<rect x="613.6" y="480.7" width="395.2" height="294.3" fill="none" stroke="#3a3a3a" stroke-width="1.3"/>
<path d="M613.6,775v-4 M613.6,480.7v4 M679.47,775v-4 M679.47,480.7v4 M745.33,775v-4 M745.33,480.7v4 M811.2,775v-4 M811.2,480.7v4 M877.07,775v-4 M877.07,480.7v4 M942.93,775v-4 M942.93,480.7v4 M1008.8,775v-4 M1008.8,480.7v4 M613.6,775h4 M1008.8,775h-4 M613.6,745.57h4 M1008.8,745.57h-4 M613.6,716.14h4 M1008.8,716.14h-4 M613.6,686.71h4 M1008.8,686.71h-4 M613.6,657.28h4 M1008.8,657.28h-4 M613.6,627.85h4 M1008.8,627.85h-4 M613.6,598.42h4 M1008.8,598.42h-4 M613.6,568.99h4 M1008.8,568.99h-4 M613.6,539.56h4 M1008.8,539.56h-4 M613.6,510.13h4 M1008.8,510.13h-4 M613.6,480.7h4 M1008.8,480.7h-4 " stroke="#3a3a3a" stroke-width="1.2" fill="none"/>
<text x="612.7" y="787" font-size="10.9" text-anchor="middle" fill="#2b2b2b" font-family='"Liberation Sans", sans-serif' >0</text>
<text x="678.57" y="787" font-size="10.9" text-anchor="middle" fill="#2b2b2b" font-family='"Liberation Sans", sans-serif' >200</text>
<text x="744.43" y="787" font-size="10.9" text-anchor="middle" fill="#2b2b2b" font-family='"Liberation Sans", sans-serif' >400</text>
<text x="810.3" y="787" font-size="10.9" text-anchor="middle" fill="#2b2b2b" font-family='"Liberation Sans", sans-serif' >600</text>
<text x="876.17" y="787" font-size="10.9" text-anchor="middle" fill="#2b2b2b" font-family='"Liberation Sans", sans-serif' >800</text>
<text x="942.03" y="787" font-size="10.9" text-anchor="middle" fill="#2b2b2b" font-family='"Liberation Sans", sans-serif' >1000</text>
<text x="1007.9" y="787" font-size="10.9" text-anchor="middle" fill="#2b2b2b" font-family='"Liberation Sans", sans-serif' >1200</text>
<text x="608.5" y="777.62" font-size="10.9" text-anchor="end" fill="#2b2b2b" font-family='"Liberation Sans", sans-serif' >0</text>
<text x="608.5" y="748.19" font-size="10.9" text-anchor="end" fill="#2b2b2b" font-family='"Liberation Sans", sans-serif' >0.1</text>
<text x="608.5" y="718.76" font-size="10.9" text-anchor="end" fill="#2b2b2b" font-family='"Liberation Sans", sans-serif' >0.2</text>
<text x="608.5" y="689.33" font-size="10.9" text-anchor="end" fill="#2b2b2b" font-family='"Liberation Sans", sans-serif' >0.3</text>
<text x="608.5" y="659.9" font-size="10.9" text-anchor="end" fill="#2b2b2b" font-family='"Liberation Sans", sans-serif' >0.4</text>
<text x="608.5" y="630.47" font-size="10.9" text-anchor="end" fill="#2b2b2b" font-family='"Liberation Sans", sans-serif' >0.5</text>
<text x="608.5" y="601.04" font-size="10.9" text-anchor="end" fill="#2b2b2b" font-family='"Liberation Sans", sans-serif' >0.6</text>
<text x="608.5" y="571.61" font-size="10.9" text-anchor="end" fill="#2b2b2b" font-family='"Liberation Sans", sans-serif' >0.7</text>
<text x="608.5" y="542.18" font-size="10.9" text-anchor="end" fill="#2b2b2b" font-family='"Liberation Sans", sans-serif' >0.8</text>
<text x="608.5" y="512.75" font-size="10.9" text-anchor="end" fill="#2b2b2b" font-family='"Liberation Sans", sans-serif' >0.9</text>
<text x="608.5" y="483.32" font-size="10.9" text-anchor="end" fill="#2b2b2b" font-family='"Liberation Sans", sans-serif' >1</text>
<path d="M614.46,774.26 L614.95,770.45 L615.43,766.63 L615.88,762.82 L616.32,759.02 L616.74,755.21 L617.15,751.41 L617.55,747.61 L617.93,743.81 L618.3,740.01 L618.67,736.21 L619.02,732.41 L619.37,728.62 L619.71,724.82 L620.05,721.03 L620.39,717.24 L620.72,713.45 L621.05,709.65 L621.38,705.86 L621.72,702.07 L622.05,698.28 L622.39,694.49 L622.74,690.7 L623.09,686.91 L623.45,683.11 L623.82,679.32 L624.2,675.53 L624.59,671.73 L625.0,667.94 L625.41,664.14 L625.85,660.34 L626.3,656.54 L626.76,652.74 L627.25,648.93 L627.75,645.13 L628.28,641.32 L628.83,637.51 L629.4,633.7 L630.0,629.89 L630.63,626.07 L631.28,622.25 L631.96,618.43 L632.67,614.6 L633.41,610.77 L634.19,606.95 L635.01,603.13 L635.88,599.32 L636.8,595.52 L637.77,591.75 L638.81,588.0 L639.92,584.29 L641.1,580.61 L642.37,576.98 L643.72,573.39 L645.16,569.85 L646.69,566.38 L648.33,562.96 L650.08,559.62 L651.94,556.35 L653.91,553.15 L656.0,550.04 L658.19,547.02 L660.49,544.09 L662.9,541.26 L665.42,538.54 L668.04,535.93 L670.77,533.43 L673.6,531.05 L676.53,528.79 L679.56,526.66 L682.68,524.65 L685.89,522.75 L689.18,520.95 L692.54,519.27 L695.98,517.68 L699.47,516.18 L703.03,514.78 L706.64,513.46 L710.29,512.22 L713.98,511.05 L717.71,509.96 L721.47,508.93 L725.26,507.96 L729.06,507.05 L732.87,506.19 L736.69,505.38 L740.52,504.61 L744.34,503.88 L748.15,503.18 L751.97,502.52 L755.79,501.9 L759.6,501.31 L763.41,500.76 L767.22,500.23 L771.04,499.74 L774.84,499.28 L778.65,498.84 L782.46,498.43 L786.27,498.05 L790.07,497.69 L793.88,497.35 L797.68,497.04 L801.49,496.74 L805.29,496.47 L809.09,496.21 L812.9,495.97 L816.7,495.75 L820.5,495.54 L824.31,495.34 L828.11,495.16 L831.91,494.99 L835.71,494.83 L839.52,494.67 L843.32,494.52 L847.13,494.38 L850.93,494.25 L854.74,494.11 L858.54,493.98 L862.35,493.86 L866.15,493.73 L869.96,493.6 L873.77,493.46 L877.58,493.33 L881.39,493.18 L885.21,493.04 L889.02,492.88 L892.84,492.72 L896.65,492.54 L900.47,492.36 L904.29,492.16 L908.11,491.95 L911.93,491.72 L915.76,491.48 L919.59,491.22 L923.42,490.95 L927.25,490.65 L931.08,490.33 L934.91,489.99 L938.75,489.63 L942.59,489.24" fill="none" stroke="#3b3bff" stroke-width="1.5"/>
<text x="809.5" y="472.3" font-size="10.9" text-anchor="middle" fill="#222" font-family='"Liberation Sans", sans-serif' >Footprint</text>
<text x="831" y="807.8" font-size="13.8" text-anchor="middle" fill="#111" font-family='"Liberation Sans", sans-serif' >Upwind distance from instrument (m)</text>
<text x="0" y="0" font-size="13.7" text-anchor="middle" fill="#111" font-family='"Liberation Sans", sans-serif' transform="translate(547,637) rotate(-90)">Cumulative normalized flux</text>
<path d="M409.7,989 L138.1,989 M391.51,925.2 L156.29,1052.8 M341.8,878.5 L206,1099.5 M273.9,861.4 L273.9,1116.6 M206,878.5 L341.8,1099.5 M156.29,925.2 L391.51,1052.8 " stroke="#555" stroke-width="1.1" stroke-dasharray="1.2 3" fill="none"/>
<ellipse cx="273.9" cy="989" rx="33.95" ry="31.9" fill="none" stroke="#555" stroke-width="1.1" stroke-dasharray="1.2 3"/>
<ellipse cx="273.9" cy="989" rx="67.9" ry="63.8" fill="none" stroke="#555" stroke-width="1.1" stroke-dasharray="1.2 3"/>
<ellipse cx="273.9" cy="989" rx="101.85" ry="95.7" fill="none" stroke="#555" stroke-width="1.1" stroke-dasharray="1.2 3"/>
<ellipse cx="273.9" cy="989" rx="135.8" ry="127.6" fill="none" stroke="#333" stroke-width="1.3"/>
<ellipse cx="273.9" cy="990" rx="3" ry="2.6" fill="none" stroke="#666" stroke-width="0.8"/>
<text x="272.3" y="851.4" font-size="11" text-anchor="middle" fill="#2b2b2b" font-family='"Liberation Sans", sans-serif' >90</text>
<text x="198.5" y="870.8" font-size="11" text-anchor="middle" fill="#2b2b2b" font-family='"Liberation Sans", sans-serif' >120</text>
<text x="346.1" y="870.8" font-size="11" text-anchor="middle" fill="#2b2b2b" font-family='"Liberation Sans", sans-serif' >60</text>
<text x="144" y="922.5" font-size="11" text-anchor="middle" fill="#2b2b2b" font-family='"Liberation Sans", sans-serif' >150</text>
<text x="400.6" y="922.5" font-size="11" text-anchor="middle" fill="#2b2b2b" font-family='"Liberation Sans", sans-serif' >30</text>
<text x="123.9" y="992.8" font-size="11" text-anchor="middle" fill="#2b2b2b" font-family='"Liberation Sans", sans-serif' >180</text>
<text x="421.7" y="992.8" font-size="11" text-anchor="middle" fill="#2b2b2b" font-family='"Liberation Sans", sans-serif' >0</text>
<text x="144" y="1062.4" font-size="11" text-anchor="middle" fill="#2b2b2b" font-family='"Liberation Sans", sans-serif' >210</text>
<text x="400.6" y="1062.4" font-size="11" text-anchor="middle" fill="#2b2b2b" font-family='"Liberation Sans", sans-serif' >330</text>
<text x="198.5" y="1114" font-size="11" text-anchor="middle" fill="#2b2b2b" font-family='"Liberation Sans", sans-serif' >240</text>
<text x="346.1" y="1114" font-size="11" text-anchor="middle" fill="#2b2b2b" font-family='"Liberation Sans", sans-serif' >300</text>
<text x="272.3" y="1133.4" font-size="11" text-anchor="middle" fill="#2b2b2b" font-family='"Liberation Sans", sans-serif' >270</text>
<text x="304" y="858.1" font-size="11" text-anchor="middle" fill="#2b2b2b" font-family='"Liberation Sans", sans-serif' >20</text>
<text x="298.7" y="889.8" font-size="11" text-anchor="middle" fill="#2b2b2b" font-family='"Liberation Sans", sans-serif' >15</text>
<text x="295.1" y="921.7" font-size="11" text-anchor="middle" fill="#2b2b2b" font-family='"Liberation Sans", sans-serif' >10</text>
<text x="286.4" y="953.4" font-size="11" text-anchor="middle" fill="#2b2b2b" font-family='"Liberation Sans", sans-serif' >5</text>
<text x="272.3" y="834.3" font-size="11" text-anchor="middle" fill="#2b2b2b" font-family='"Liberation Sans", sans-serif' >Xpeak</text>
<path d="M189.5,985.9l2.6,2.6 -2.6,2.6 -2.6,-2.6zM225,984.6l2.6,2.6 -2.6,2.6 -2.6,-2.6zM254.2,980.1l2.6,2.6 -2.6,2.6 -2.6,-2.6zM248.7,985.3l2.6,2.6 -2.6,2.6 -2.6,-2.6zM254.2,984.6l2.6,2.6 -2.6,2.6 -2.6,-2.6zM251.4,989.6l2.6,2.6 -2.6,2.6 -2.6,-2.6zM259.4,995.8l2.6,2.6 -2.6,2.6 -2.6,-2.6zM215.9,995.8l2.6,2.6 -2.6,2.6 -2.6,-2.6zM237.8,993.7l2.6,2.6 -2.6,2.6 -2.6,-2.6zM233.9,999.2l2.6,2.6 -2.6,2.6 -2.6,-2.6zM238.2,998.2l2.6,2.6 -2.6,2.6 -2.6,-2.6zM219.3,1001.4l2.6,2.6 -2.6,2.6 -2.6,-2.6zM222,1003.3l2.6,2.6 -2.6,2.6 -2.6,-2.6zM251.4,1001.7l2.6,2.6 -2.6,2.6 -2.6,-2.6zM244.2,1004.7l2.6,2.6 -2.6,2.6 -2.6,-2.6zM248,1005.8l2.6,2.6 -2.6,2.6 -2.6,-2.6zM251.4,1006.9l2.6,2.6 -2.6,2.6 -2.6,-2.6zM189.5,1009.2l2.6,2.6 -2.6,2.6 -2.6,-2.6zM197.4,1011.2l2.6,2.6 -2.6,2.6 -2.6,-2.6zM202.2,1008.2l2.6,2.6 -2.6,2.6 -2.6,-2.6zM201.3,1012.6l2.6,2.6 -2.6,2.6 -2.6,-2.6zM205.4,1011.2l2.6,2.6 -2.6,2.6 -2.6,-2.6zM208.4,1008.5l2.6,2.6 -2.6,2.6 -2.6,-2.6zM216.6,1010.1l2.6,2.6 -2.6,2.6 -2.6,-2.6zM220.4,1008.2l2.6,2.6 -2.6,2.6 -2.6,-2.6zM224.1,1008.5l2.6,2.6 -2.6,2.6 -2.6,-2.6zM228.6,1006.9l2.6,2.6 -2.6,2.6 -2.6,-2.6zM229.6,1009.2l2.6,2.6 -2.6,2.6 -2.6,-2.6zM235.7,1011.9l2.6,2.6 -2.6,2.6 -2.6,-2.6zM238.4,1016.3l2.6,2.6 -2.6,2.6 -2.6,-2.6zM227.5,1019l2.6,2.6 -2.6,2.6 -2.6,-2.6zM223,1023.8l2.6,2.6 -2.6,2.6 -2.6,-2.6zM239.5,1023.9l2.6,2.6 -2.6,2.6 -2.6,-2.6zM232.3,1029.3l2.6,2.6 -2.6,2.6 -2.6,-2.6zM233,1037.9l2.6,2.6 -2.6,2.6 -2.6,-2.6zM196.7,1039.3l2.6,2.6 -2.6,2.6 -2.6,-2.6zM219.3,1043l2.6,2.6 -2.6,2.6 -2.6,-2.6zM152.3,1036.9l2.6,2.6 -2.6,2.6 -2.6,-2.6zM172.1,1055l2.6,2.6 -2.6,2.6 -2.6,-2.6zM179.2,1061.1l2.6,2.6 -2.6,2.6 -2.6,-2.6zM192,1074.8l2.6,2.6 -2.6,2.6 -2.6,-2.6zM280,1009.3l2.6,2.6 -2.6,2.6 -2.6,-2.6zM352.3,944.7l2.6,2.6 -2.6,2.6 -2.6,-2.6zM360.8,949.3l2.6,2.6 -2.6,2.6 -2.6,-2.6zM301.4,962l2.6,2.6 -2.6,2.6 -2.6,-2.6zM307.9,967.3l2.6,2.6 -2.6,2.6 -2.6,-2.6zM312.4,970.4l2.6,2.6 -2.6,2.6 -2.6,-2.6zM311.3,973.5l2.6,2.6 -2.6,2.6 -2.6,-2.6zM334.2,966.2l2.6,2.6 -2.6,2.6 -2.6,-2.6zM345.2,964.7l2.6,2.6 -2.6,2.6 -2.6,-2.6zM327,972.5l2.6,2.6 -2.6,2.6 -2.6,-2.6zM334.9,980.3l2.6,2.6 -2.6,2.6 -2.6,-2.6zM292.4,977.3l2.6,2.6 -2.6,2.6 -2.6,-2.6zM287.8,980.7l2.6,2.6 -2.6,2.6 -2.6,-2.6zM291.4,983.7l2.6,2.6 -2.6,2.6 -2.6,-2.6zM296.9,985.1l2.6,2.6 -2.6,2.6 -2.6,-2.6zM287.8,987.1l2.6,2.6 -2.6,2.6 -2.6,-2.6zM293.2,992.3l2.6,2.6 -2.6,2.6 -2.6,-2.6zM291.9,993.7l2.6,2.6 -2.6,2.6 -2.6,-2.6zM297.6,995.7l2.6,2.6 -2.6,2.6 -2.6,-2.6zM295.3,994.6l2.6,2.6 -2.6,2.6 -2.6,-2.6z" fill="#0000ff"/>
<path d="M964.9,987.8 L694.3,987.8 M946.77,923.95 L712.43,1051.65 M897.25,877.21 L761.95,1098.39 M829.6,860.1 L829.6,1115.5 M761.95,877.21 L897.25,1098.39 M712.43,923.95 L946.77,1051.65 " stroke="#555" stroke-width="1.1" stroke-dasharray="1.2 3" fill="none"/>
<ellipse cx="829.6" cy="987.8" rx="45.1" ry="42.57" fill="none" stroke="#555" stroke-width="1.1" stroke-dasharray="1.2 3"/>
<ellipse cx="829.6" cy="987.8" rx="90.2" ry="85.13" fill="none" stroke="#555" stroke-width="1.1" stroke-dasharray="1.2 3"/>
<ellipse cx="829.6" cy="987.8" rx="135.3" ry="127.7" fill="none" stroke="#333" stroke-width="1.3"/>
<ellipse cx="829.6" cy="988.8" rx="3" ry="2.6" fill="none" stroke="#666" stroke-width="0.8"/>
<text x="828" y="850.4" font-size="11" text-anchor="middle" fill="#2b2b2b" font-family='"Liberation Sans", sans-serif' >90</text>
<text x="754.2" y="869" font-size="11" text-anchor="middle" fill="#2b2b2b" font-family='"Liberation Sans", sans-serif' >120</text>
<text x="901.9" y="869" font-size="11" text-anchor="middle" fill="#2b2b2b" font-family='"Liberation Sans", sans-serif' >60</text>
<text x="699.4" y="920.7" font-size="11" text-anchor="middle" fill="#2b2b2b" font-family='"Liberation Sans", sans-serif' >150</text>
<text x="956.4" y="920.7" font-size="11" text-anchor="middle" fill="#2b2b2b" font-family='"Liberation Sans", sans-serif' >30</text>
<text x="679.3" y="991" font-size="11" text-anchor="middle" fill="#2b2b2b" font-family='"Liberation Sans", sans-serif' >180</text>
<text x="977.2" y="991" font-size="11" text-anchor="middle" fill="#2b2b2b" font-family='"Liberation Sans", sans-serif' >0</text>
<text x="699.4" y="1060.6" font-size="11" text-anchor="middle" fill="#2b2b2b" font-family='"Liberation Sans", sans-serif' >210</text>
<text x="957.1" y="1060.6" font-size="11" text-anchor="middle" fill="#2b2b2b" font-family='"Liberation Sans", sans-serif' >330</text>
<text x="754.2" y="1112.3" font-size="11" text-anchor="middle" fill="#2b2b2b" font-family='"Liberation Sans", sans-serif' >240</text>
<text x="902.6" y="1112.3" font-size="11" text-anchor="middle" fill="#2b2b2b" font-family='"Liberation Sans", sans-serif' >300</text>
<text x="828" y="1131.7" font-size="11" text-anchor="middle" fill="#2b2b2b" font-family='"Liberation Sans", sans-serif' >270</text>
<text x="863.2" y="856.3" font-size="11" text-anchor="middle" fill="#2b2b2b" font-family='"Liberation Sans", sans-serif' >300</text>
<text x="857.6" y="898.5" font-size="11" text-anchor="middle" fill="#2b2b2b" font-family='"Liberation Sans", sans-serif' >200</text>
<text x="851" y="940" font-size="11" text-anchor="middle" fill="#2b2b2b" font-family='"Liberation Sans", sans-serif' >100</text>
<text x="828" y="832.6" font-size="11" text-anchor="middle" fill="#2b2b2b" font-family='"Liberation Sans", sans-serif' >Fetch for Unstable Cond.</text>
<path d="M722.1,984.6l2.6,2.6 -2.6,2.6 -2.6,-2.6zM768,981.8l2.6,2.6 -2.6,2.6 -2.6,-2.6zM805,976.8l2.6,2.6 -2.6,2.6 -2.6,-2.6zM796.8,983.6l2.6,2.6 -2.6,2.6 -2.6,-2.6zM804.2,981.8l2.6,2.6 -2.6,2.6 -2.6,-2.6zM801.4,988.7l2.6,2.6 -2.6,2.6 -2.6,-2.6zM811.7,996.5l2.6,2.6 -2.6,2.6 -2.6,-2.6zM755,996.5l2.6,2.6 -2.6,2.6 -2.6,-2.6zM783.1,993.7l2.6,2.6 -2.6,2.6 -2.6,-2.6zM778.6,1000.7l2.6,2.6 -2.6,2.6 -2.6,-2.6zM784.1,998.9l2.6,2.6 -2.6,2.6 -2.6,-2.6zM784.1,1001l2.6,2.6 -2.6,2.6 -2.6,-2.6zM759.5,1004.1l2.6,2.6 -2.6,2.6 -2.6,-2.6zM764.3,1006.9l2.6,2.6 -2.6,2.6 -2.6,-2.6zM800.5,1003.4l2.6,2.6 -2.6,2.6 -2.6,-2.6zM792.3,1008.2l2.6,2.6 -2.6,2.6 -2.6,-2.6zM796.4,1010.3l2.6,2.6 -2.6,2.6 -2.6,-2.6zM800.8,1010.3l2.6,2.6 -2.6,2.6 -2.6,-2.6zM722.1,1013.6l2.6,2.6 -2.6,2.6 -2.6,-2.6zM732.1,1015.3l2.6,2.6 -2.6,2.6 -2.6,-2.6zM737.6,1011.9l2.6,2.6 -2.6,2.6 -2.6,-2.6zM736.6,1018.1l2.6,2.6 -2.6,2.6 -2.6,-2.6zM741,1015.3l2.6,2.6 -2.6,2.6 -2.6,-2.6zM744,1015.3l2.6,2.6 -2.6,2.6 -2.6,-2.6zM746.9,1012.6l2.6,2.6 -2.6,2.6 -2.6,-2.6zM756.7,1014.6l2.6,2.6 -2.6,2.6 -2.6,-2.6zM761.5,1012.6l2.6,2.6 -2.6,2.6 -2.6,-2.6zM766,1012.6l2.6,2.6 -2.6,2.6 -2.6,-2.6zM771.8,1009.9l2.6,2.6 -2.6,2.6 -2.6,-2.6zM771.4,1012.6l2.6,2.6 -2.6,2.6 -2.6,-2.6zM774.2,1013.7l2.6,2.6 -2.6,2.6 -2.6,-2.6zM781.4,1017.8l2.6,2.6 -2.6,2.6 -2.6,-2.6zM785,1022.4l2.6,2.6 -2.6,2.6 -2.6,-2.6zM771.4,1025.9l2.6,2.6 -2.6,2.6 -2.6,-2.6zM764.9,1032.4l2.6,2.6 -2.6,2.6 -2.6,-2.6zM785.9,1032.4l2.6,2.6 -2.6,2.6 -2.6,-2.6zM776.8,1038.6l2.6,2.6 -2.6,2.6 -2.6,-2.6zM777.7,1049.8l2.6,2.6 -2.6,2.6 -2.6,-2.6zM731.2,1052.2l2.6,2.6 -2.6,2.6 -2.6,-2.6zM759.5,1055.9l2.6,2.6 -2.6,2.6 -2.6,-2.6zM837.7,1013.7l2.6,2.6 -2.6,2.6 -2.6,-2.6zM929,931.8l2.6,2.6 -2.6,2.6 -2.6,-2.6zM939.2,937.9l2.6,2.6 -2.6,2.6 -2.6,-2.6zM864,953.4l2.6,2.6 -2.6,2.6 -2.6,-2.6zM872.4,960.5l2.6,2.6 -2.6,2.6 -2.6,-2.6zM878.8,964.6l2.6,2.6 -2.6,2.6 -2.6,-2.6zM877.2,968.3l2.6,2.6 -2.6,2.6 -2.6,-2.6zM897.2,966.2l2.6,2.6 -2.6,2.6 -2.6,-2.6zM907.1,958.4l2.6,2.6 -2.6,2.6 -2.6,-2.6zM919.8,956.8l2.6,2.6 -2.6,2.6 -2.6,-2.6zM907.1,976.6l2.6,2.6 -2.6,2.6 -2.6,-2.6zM852.4,973l2.6,2.6 -2.6,2.6 -2.6,-2.6zM846.9,977.6l2.6,2.6 -2.6,2.6 -2.6,-2.6zM852.4,980.7l2.6,2.6 -2.6,2.6 -2.6,-2.6zM859,983l2.6,2.6 -2.6,2.6 -2.6,-2.6zM846.9,985.4l2.6,2.6 -2.6,2.6 -2.6,-2.6zM853.5,993.7l2.6,2.6 -2.6,2.6 -2.6,-2.6zM856,992.3l2.6,2.6 -2.6,2.6 -2.6,-2.6zM859.7,996.4l2.6,2.6 -2.6,2.6 -2.6,-2.6zM857.6,994.6l2.6,2.6 -2.6,2.6 -2.6,-2.6z" fill="#0000ff"/>
<text x="15" y="434" font-size="31" text-anchor="start" fill="#000" font-family='"Liberation Serif", serif' >(a)</text>
<text x="3" y="802" font-size="35" text-anchor="start" fill="#000" font-family='"Liberation Serif", serif' >(c)</text>
<text x="550" y="795" font-size="35" text-anchor="start" fill="#000" font-family='"Liberation Serif", serif' >(d)</text>
<text x="8" y="1156" font-size="35" text-anchor="start" fill="#000" font-family='"Liberation Serif", serif' >(e)</text>
<text x="559" y="1151" font-size="35" text-anchor="start" fill="#000" font-family='"Liberation Serif", serif' >(f)</text>
</svg>
</body></html>
